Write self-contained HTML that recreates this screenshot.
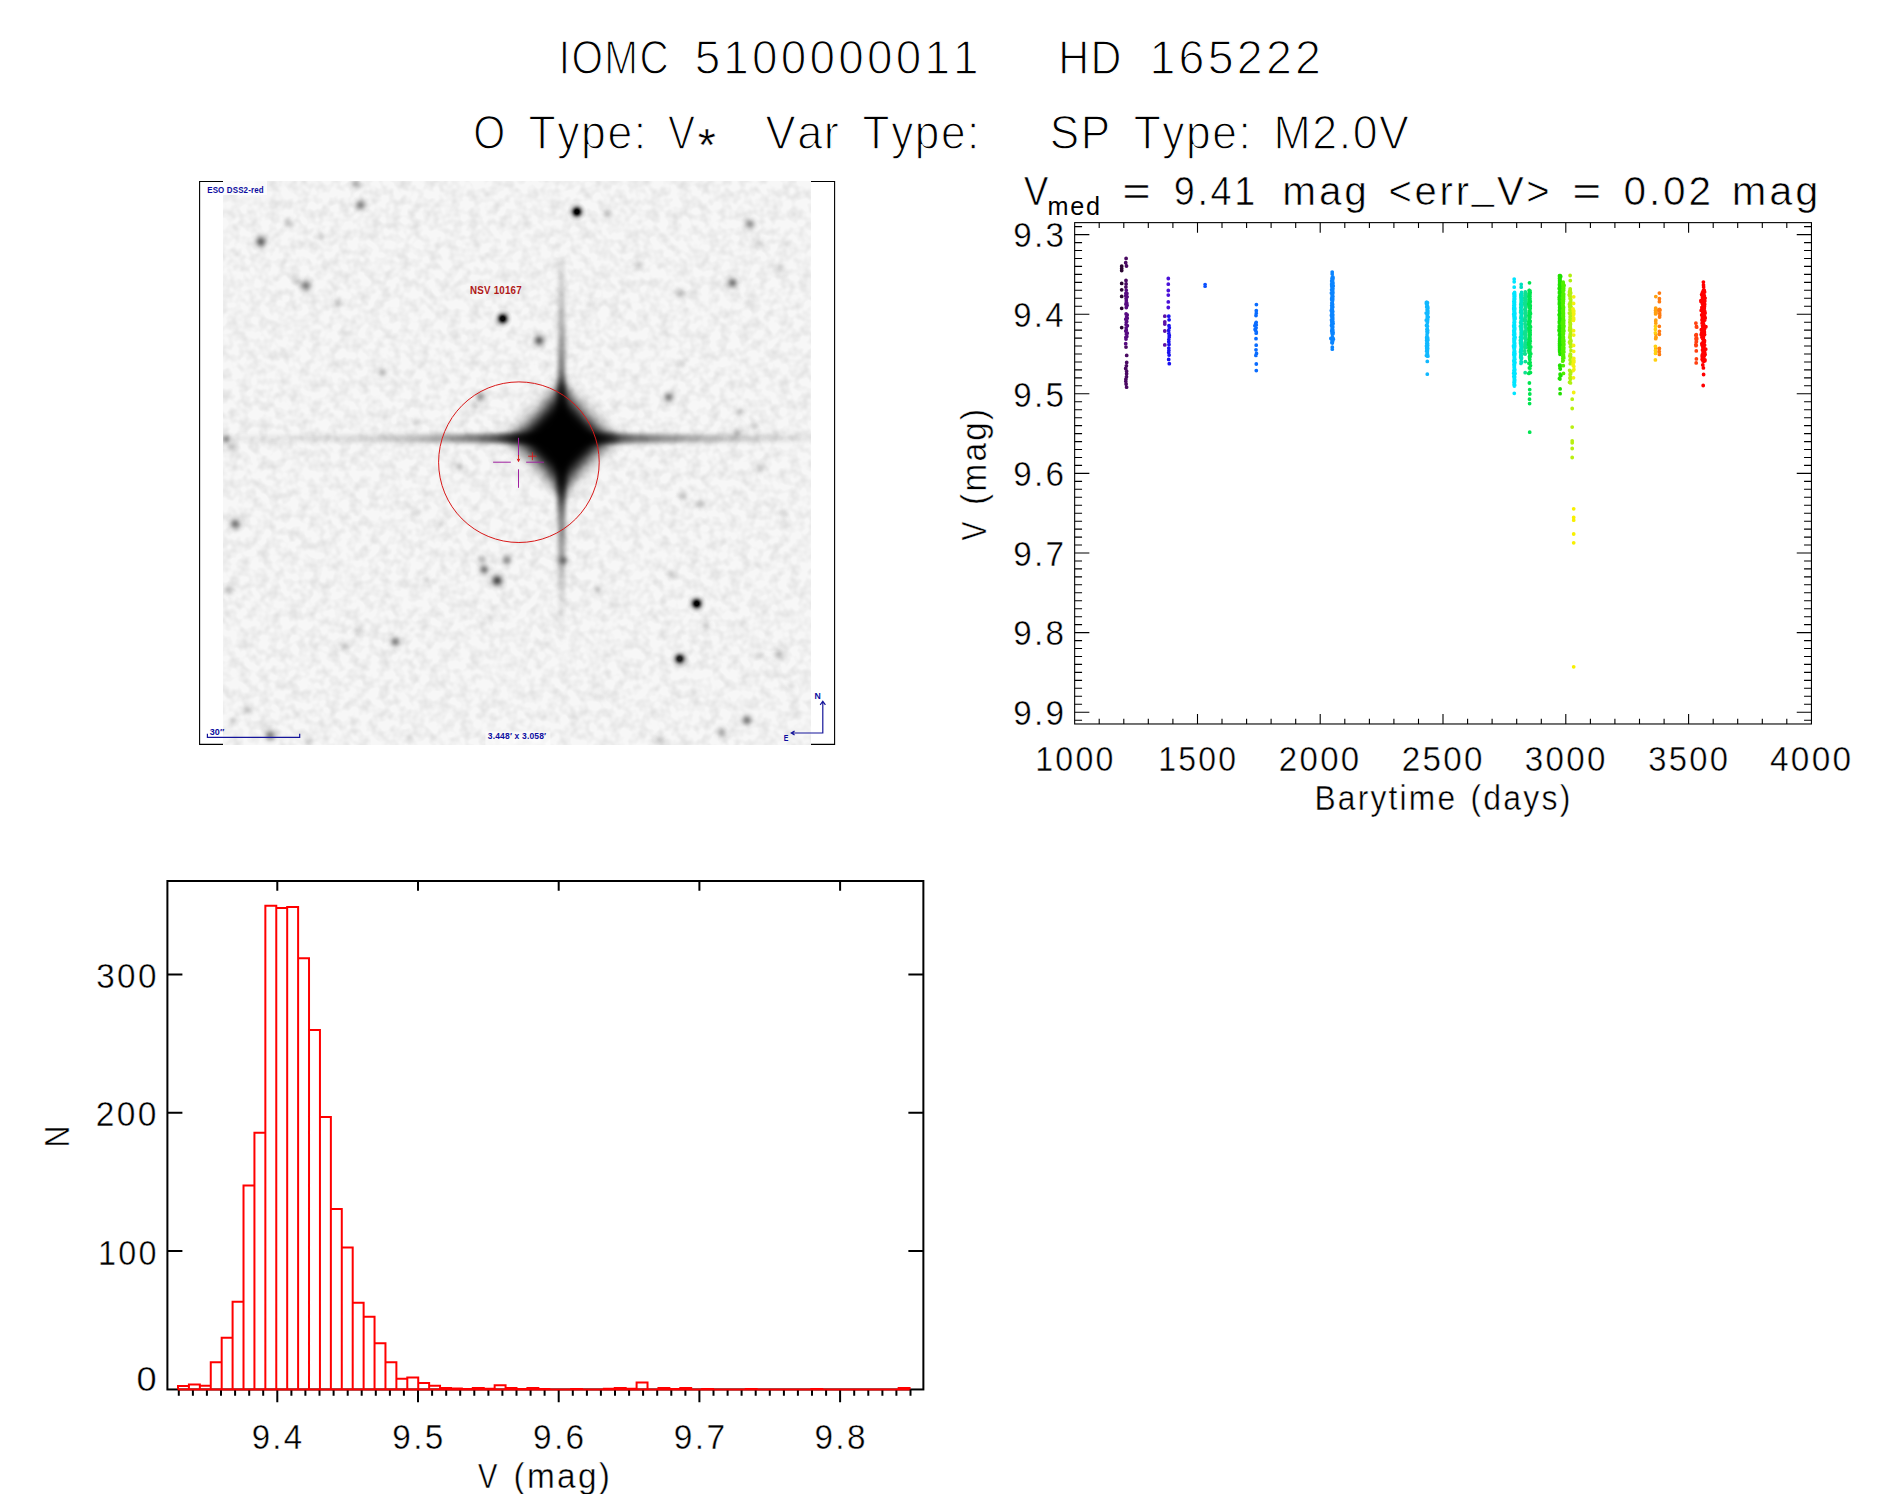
<!DOCTYPE html>
<html lang="en"><head><meta charset="utf-8"><title>IOMC 5100000011 HD 165222</title>
<style>html,body{margin:0;padding:0;background:#fff}svg{display:block}text{font-family:"Liberation Sans", sans-serif;font-kerning:none;white-space:pre}</style>
</head><body>
<svg width="1889" height="1494" viewBox="0 0 1889 1494">
<rect width="1889" height="1494" fill="#fff"/>
<defs>
<filter id="noise" x="0" y="0" width="100%" height="100%"><feTurbulence type="fractalNoise" baseFrequency="0.1" numOctaves="2" seed="7" result="t"/><feColorMatrix type="matrix" values="0 0 0 0 0  0 0 0 0 0  0 0 0 0 0  0.18 0 0 0 -0.066"/></filter>
<filter id="b2" x="-50%" y="-50%" width="200%" height="200%"><feGaussianBlur stdDeviation="2.3"/></filter>
<filter id="b5" x="-20%" y="-20%" width="140%" height="140%"><feGaussianBlur stdDeviation="4.5"/></filter>
<filter id="b3" x="-20%" y="-20%" width="140%" height="140%"><feGaussianBlur stdDeviation="2.2"/></filter>
<linearGradient id="hs" gradientUnits="userSpaceOnUse" x1="223" x2="811" y1="0" y2="0"><stop offset="0.0000" stop-color="#000" stop-opacity="0.05"/><stop offset="0.1310" stop-color="#000" stop-opacity="0.08"/><stop offset="0.2500" stop-color="#000" stop-opacity="0.13"/><stop offset="0.3180" stop-color="#000" stop-opacity="0.22"/><stop offset="0.3690" stop-color="#000" stop-opacity="0.32"/><stop offset="0.4371" stop-color="#000" stop-opacity="0.52"/><stop offset="0.4796" stop-color="#000" stop-opacity="0.72"/><stop offset="0.5136" stop-color="#000" stop-opacity="0.8"/><stop offset="0.6412" stop-color="#000" stop-opacity="0.8"/><stop offset="0.6786" stop-color="#000" stop-opacity="0.58"/><stop offset="0.7432" stop-color="#000" stop-opacity="0.42"/><stop offset="0.7942" stop-color="#000" stop-opacity="0.31"/><stop offset="0.8639" stop-color="#000" stop-opacity="0.2"/><stop offset="0.9303" stop-color="#000" stop-opacity="0.12"/><stop offset="1.0000" stop-color="#000" stop-opacity="0.07"/></linearGradient>
<linearGradient id="vs" gradientUnits="userSpaceOnUse" x1="0" x2="0" y1="181" y2="745"><stop offset="0.1259" stop-color="#000" stop-opacity="0.0"/><stop offset="0.1436" stop-color="#000" stop-opacity="0.09"/><stop offset="0.1755" stop-color="#000" stop-opacity="0.16"/><stop offset="0.2642" stop-color="#000" stop-opacity="0.3"/><stop offset="0.3369" stop-color="#000" stop-opacity="0.5"/><stop offset="0.3723" stop-color="#000" stop-opacity="0.75"/><stop offset="0.5301" stop-color="#000" stop-opacity="0.8"/><stop offset="0.5656" stop-color="#000" stop-opacity="0.66"/><stop offset="0.6011" stop-color="#000" stop-opacity="0.46"/><stop offset="0.6365" stop-color="#000" stop-opacity="0.38"/><stop offset="0.6720" stop-color="#000" stop-opacity="0.3"/><stop offset="0.7074" stop-color="#000" stop-opacity="0.18"/><stop offset="0.7429" stop-color="#000" stop-opacity="0.1"/><stop offset="0.7784" stop-color="#000" stop-opacity="0.06"/><stop offset="0.8227" stop-color="#000" stop-opacity="0.0"/></linearGradient>
<filter id="b6" x="-20%" y="-20%" width="140%" height="140%"><feGaussianBlur stdDeviation="6.5"/></filter>
<radialGradient id="sg"><stop offset="0" stop-color="#000" stop-opacity="1.000"/><stop offset="0.1" stop-color="#000" stop-opacity="0.956"/><stop offset="0.2" stop-color="#000" stop-opacity="0.835"/><stop offset="0.3" stop-color="#000" stop-opacity="0.667"/><stop offset="0.4" stop-color="#000" stop-opacity="0.487"/><stop offset="0.5" stop-color="#000" stop-opacity="0.325"/><stop offset="0.6" stop-color="#000" stop-opacity="0.198"/><stop offset="0.7" stop-color="#000" stop-opacity="0.110"/><stop offset="0.8" stop-color="#000" stop-opacity="0.056"/><stop offset="0.9" stop-color="#000" stop-opacity="0.026"/><stop offset="1.0" stop-color="#000" stop-opacity="0.000"/></radialGradient>
<radialGradient id="sgs"><stop offset="0" stop-color="#000" stop-opacity="1.000"/><stop offset="0.1" stop-color="#000" stop-opacity="1.000"/><stop offset="0.2" stop-color="#000" stop-opacity="1.000"/><stop offset="0.3" stop-color="#000" stop-opacity="0.800"/><stop offset="0.4" stop-color="#000" stop-opacity="0.584"/><stop offset="0.5" stop-color="#000" stop-opacity="0.390"/><stop offset="0.6" stop-color="#000" stop-opacity="0.237"/><stop offset="0.7" stop-color="#000" stop-opacity="0.132"/><stop offset="0.8" stop-color="#000" stop-opacity="0.067"/><stop offset="0.9" stop-color="#000" stop-opacity="0.031"/><stop offset="1.0" stop-color="#000" stop-opacity="0.000"/></radialGradient>
<clipPath id="imgclip"><rect x="223.04" y="181" width="587.92" height="563.9"/></clipPath>
</defs>
<text transform="translate(558.74 73.72) scale(0.8460 1)" font-size="47.89" letter-spacing="1.676" fill="#000" stroke="#fff" stroke-width="1.25" stroke-linejoin="round" vector-effect="non-scaling-stroke">IOMC</text>
<text transform="translate(694.64 73.72) scale(0.9582 1)" font-size="47.89" letter-spacing="3.352" fill="#000" stroke="#fff" stroke-width="1.25" stroke-linejoin="round" vector-effect="non-scaling-stroke">5100000011</text>
<text transform="translate(1058.17 73.72) scale(0.8936 1)" font-size="47.89" letter-spacing="1.676" fill="#000" stroke="#fff" stroke-width="1.25" stroke-linejoin="round" vector-effect="non-scaling-stroke">HD</text>
<text transform="translate(1149.43 73.72) scale(0.9715 1)" font-size="47.89" letter-spacing="3.352" fill="#000" stroke="#fff" stroke-width="1.25" stroke-linejoin="round" vector-effect="non-scaling-stroke">165222</text>
<text transform="translate(473.23 149.02) scale(0.8580 1)" font-size="47.89" fill="#000" stroke="#fff" stroke-width="1.25" stroke-linejoin="round" vector-effect="non-scaling-stroke">O</text>
<text transform="translate(528.48 149.02) scale(0.9299 1)" font-size="47.89" letter-spacing="1.676" fill="#000" stroke="#fff" stroke-width="1.25" stroke-linejoin="round" vector-effect="non-scaling-stroke">Type:</text>
<text transform="translate(668.10 149.02) scale(0.8454 1)" font-size="47.89" fill="#000" stroke="#fff" stroke-width="1.25" stroke-linejoin="round" vector-effect="non-scaling-stroke">V</text>
<text transform="translate(765.48 149.02) scale(0.9425 1)" font-size="47.89" letter-spacing="1.676" fill="#000" stroke="#fff" stroke-width="1.25" stroke-linejoin="round" vector-effect="non-scaling-stroke">Var</text>
<text transform="translate(862.58 149.02) scale(0.9233 1)" font-size="47.89" letter-spacing="1.676" fill="#000" stroke="#fff" stroke-width="1.25" stroke-linejoin="round" vector-effect="non-scaling-stroke">Type:</text>
<text transform="translate(1049.87 149.02) scale(0.9209 1)" font-size="47.89" letter-spacing="1.676" fill="#000" stroke="#fff" stroke-width="1.25" stroke-linejoin="round" vector-effect="non-scaling-stroke">SP</text>
<text transform="translate(1133.68 149.02) scale(0.9258 1)" font-size="47.89" letter-spacing="1.676" fill="#000" stroke="#fff" stroke-width="1.25" stroke-linejoin="round" vector-effect="non-scaling-stroke">Type:</text>
<text transform="translate(1273.51 149.02) scale(0.9331 1)" font-size="47.89" letter-spacing="1.676" fill="#000" stroke="#fff" stroke-width="1.25" stroke-linejoin="round" vector-effect="non-scaling-stroke">M2.0V</text>
<text x="697.85" y="160.6" font-size="46.5" fill="#000" stroke="#fff" stroke-width="0.4">*</text>
<g id="chart">
<path d="M223 181.5H199.6V744.4H223M811 181.5H834.6V744.4H811" fill="none" stroke="#000" stroke-width="1.1"/>
<g clip-path="url(#imgclip)">
<rect x="223" y="181" width="588" height="564" fill="#f7f7f7"/>
<rect x="223" y="181" width="588" height="564" fill="#000" filter="url(#noise)"/>
<circle cx="356.3" cy="184" r="9.3" fill="url(#sg)" opacity="0.22"/>
<circle cx="360.7" cy="205.1" r="10.4" fill="url(#sg)" opacity="0.42"/>
<circle cx="260.7" cy="241.7" r="11.0" fill="url(#sg)" opacity="0.53"/>
<circle cx="288.4" cy="222.6" r="9.3" fill="url(#sg)" opacity="0.15"/>
<circle cx="306" cy="285.5" r="11.0" fill="url(#sg)" opacity="0.42"/>
<circle cx="297" cy="281" r="8.7" fill="url(#sg)" opacity="0.12"/>
<circle cx="337.6" cy="302.5" r="9.3" fill="url(#sg)" opacity="0.17"/>
<circle cx="502.7" cy="318.6" r="10" fill="url(#sgs)" opacity="0.97"/>
<circle cx="382.4" cy="372.4" r="9.3" fill="url(#sg)" opacity="0.22"/>
<circle cx="480.2" cy="396.9" r="9.3" fill="url(#sg)" opacity="0.34"/>
<circle cx="475" cy="406" r="8.7" fill="url(#sg)" opacity="0.15"/>
<circle cx="226" cy="439" r="9.3" fill="url(#sg)" opacity="0.34"/>
<circle cx="232" cy="447" r="9.3" fill="url(#sg)" opacity="0.19"/>
<circle cx="416" cy="422" r="8.7" fill="url(#sg)" opacity="0.12"/>
<circle cx="320.5" cy="236" r="8.7" fill="url(#sg)" opacity="0.11"/>
<circle cx="459" cy="467" r="8.7" fill="url(#sg)" opacity="0.15"/>
<circle cx="576.9" cy="211.8" r="10" fill="url(#sgs)" opacity="1.00"/>
<circle cx="607.4" cy="213.8" r="9.3" fill="url(#sg)" opacity="0.20"/>
<circle cx="750" cy="224.2" r="10.4" fill="url(#sg)" opacity="0.36"/>
<circle cx="760" cy="243.3" r="9.9" fill="url(#sg)" opacity="0.09"/>
<circle cx="638.5" cy="265.4" r="9.3" fill="url(#sg)" opacity="0.15"/>
<circle cx="780" cy="267.4" r="9.3" fill="url(#sg)" opacity="0.15"/>
<circle cx="732.5" cy="282.9" r="10.4" fill="url(#sg)" opacity="0.47"/>
<circle cx="680.7" cy="292.9" r="9.3" fill="url(#sg)" opacity="0.19"/>
<circle cx="748" cy="303" r="8.7" fill="url(#sg)" opacity="0.09"/>
<circle cx="539.1" cy="340.3" r="11.0" fill="url(#sg)" opacity="0.53"/>
<circle cx="681.7" cy="363.8" r="8.7" fill="url(#sg)" opacity="0.09"/>
<circle cx="668.6" cy="397.3" r="9.9" fill="url(#sg)" opacity="0.42"/>
<circle cx="740" cy="412" r="9.3" fill="url(#sg)" opacity="0.15"/>
<circle cx="754.6" cy="426" r="9.3" fill="url(#sg)" opacity="0.15"/>
<circle cx="737" cy="432" r="9.3" fill="url(#sg)" opacity="0.17"/>
<circle cx="590" cy="304.5" r="8.7" fill="url(#sg)" opacity="0.09"/>
<circle cx="235.2" cy="523.9" r="11.0" fill="url(#sg)" opacity="0.47"/>
<circle cx="229.2" cy="590.5" r="9.3" fill="url(#sg)" opacity="0.19"/>
<circle cx="482.2" cy="559.4" r="9.3" fill="url(#sg)" opacity="0.22"/>
<circle cx="484.2" cy="569.4" r="9.9" fill="url(#sg)" opacity="0.42"/>
<circle cx="506.9" cy="560" r="9.9" fill="url(#sg)" opacity="0.36"/>
<circle cx="497.2" cy="580.5" r="11.3" fill="url(#sg)" opacity="0.64"/>
<circle cx="426" cy="579.5" r="8.7" fill="url(#sg)" opacity="0.09"/>
<circle cx="491" cy="617.6" r="8.7" fill="url(#sg)" opacity="0.09"/>
<circle cx="357.7" cy="630.7" r="9.3" fill="url(#sg)" opacity="0.14"/>
<circle cx="344.6" cy="646.7" r="9.3" fill="url(#sg)" opacity="0.14"/>
<circle cx="395.2" cy="641.7" r="10.2" fill="url(#sg)" opacity="0.42"/>
<circle cx="248.2" cy="710" r="9.9" fill="url(#sg)" opacity="0.15"/>
<circle cx="270.3" cy="735.1" r="11.0" fill="url(#sg)" opacity="0.42"/>
<circle cx="308.5" cy="742" r="9.3" fill="url(#sg)" opacity="0.15"/>
<circle cx="408.9" cy="738" r="8.7" fill="url(#sg)" opacity="0.09"/>
<circle cx="233" cy="721" r="8.7" fill="url(#sg)" opacity="0.09"/>
<circle cx="441" cy="524" r="8.7" fill="url(#sg)" opacity="0.07"/>
<circle cx="415" cy="512" r="9.9" fill="url(#sg)" opacity="0.07"/>
<circle cx="563.2" cy="560.4" r="9.9" fill="url(#sg)" opacity="0.38"/>
<circle cx="760" cy="469" r="9.3" fill="url(#sg)" opacity="0.14"/>
<circle cx="683.1" cy="495.7" r="9.3" fill="url(#sg)" opacity="0.15"/>
<circle cx="700.4" cy="503.8" r="9.3" fill="url(#sg)" opacity="0.15"/>
<circle cx="671.6" cy="574.5" r="9.3" fill="url(#sg)" opacity="0.12"/>
<circle cx="598" cy="590.1" r="9.3" fill="url(#sg)" opacity="0.15"/>
<circle cx="696.7" cy="603.6" r="10" fill="url(#sgs)" opacity="1.00"/>
<circle cx="706.4" cy="625.7" r="8.7" fill="url(#sg)" opacity="0.12"/>
<circle cx="679.7" cy="658.8" r="10" fill="url(#sgs)" opacity="0.87"/>
<circle cx="779.1" cy="654.4" r="10.4" fill="url(#sg)" opacity="0.22"/>
<circle cx="760" cy="654.8" r="8.7" fill="url(#sg)" opacity="0.09"/>
<circle cx="791" cy="686" r="8.7" fill="url(#sg)" opacity="0.09"/>
<circle cx="747" cy="720" r="10.4" fill="url(#sg)" opacity="0.42"/>
<circle cx="721.8" cy="732.1" r="10.4" fill="url(#sg)" opacity="0.24"/>
<circle cx="660.6" cy="740.1" r="9.9" fill="url(#sg)" opacity="0.17"/>
<circle cx="602" cy="697" r="8.7" fill="url(#sg)" opacity="0.07"/>
<circle cx="783" cy="514" r="8.7" fill="url(#sg)" opacity="0.07"/>
<g filter="url(#b3)">
<path d="M223 435.4 L440 434.59999999999997 L531.6 433.4 L591.6 433.4 L690 434.59999999999997 L811 435.4 L811 441.4 L690 442.2 L591.6 443.4 L531.6 443.4 L440 442.2 L223 441.4Z" fill="url(#hs)"/>
<path d="M558.8000000000001 255 L558.0 380 L556.8000000000001 408.4 L556.8000000000001 468.4 L558.0 520 L558.8000000000001 650 L564.4 650 L565.2 520 L566.4 468.4 L566.4 408.4 L565.2 380 L564.4 255Z" fill="url(#vs)"/>
</g>
<g filter="url(#b6)" fill="#000">
<path d="M561.6 384.4 L615.6 438.4 L561.6 492.4 L507.6 438.4Z" opacity="0.45"/>
</g>
<g filter="url(#b5)" fill="#000">
<path d="M561.6 400.4 L599.6 438.4 L561.6 476.4 L523.6 438.4Z"/>
<path d="M495.6 438.4 Q539.6 434.4 561.6 376.4 Q583.6 434.4 627.6 438.4 Q583.6 442.4 561.6 500.4 Q539.6 442.4 495.6 438.4Z" opacity="0.55"/>
</g>
</g>
<circle cx="518.9" cy="462.2" r="80.3" fill="none" stroke="#d81818" stroke-width="1"/>
<path d="M518.5 437.8V456M518.5 469.3V487.8M493.1 462.2H510.8M526.2 462.2H543.9" stroke="#a020a0" stroke-width="1" fill="none"/>
<path d="M518.5 455V461.2M517.2 458.8L518.5 461.6L519.8 458.8M532.4 452.2V460.2M528.2 456.2H536.6" stroke="#d81818" stroke-width="0.9" fill="none"/>
<rect x="223" y="181" width="44" height="14" fill="#fff" opacity="0.75"/>
<text transform="translate(207.17 193.20) scale(0.9265 1)" font-size="8.60" letter-spacing="0.172" font-weight="bold" fill="#0c0ca0">ESO DSS2-red</text>
<text transform="translate(470.04 293.60) scale(0.9073 1)" font-size="10.80" letter-spacing="0.216" font-weight="bold" fill="#b01818">NSV 10167</text>
<text transform="translate(209.69 734.70) scale(0.9669 1)" font-size="9.30" letter-spacing="0.186" font-weight="bold" fill="#0c0ca0">30″</text>
<path d="M207.4 733.7V737.4H299.7V733.7" fill="none" stroke="#14149a" stroke-width="1.2"/>
<rect x="485.4" y="731.6" width="65" height="13.3" fill="#fff" opacity="0.55"/>
<text transform="translate(487.81 739.00) scale(1.0101 1)" font-size="8.40" letter-spacing="0.168" font-weight="bold" fill="#0c0ca0">3.448′ x 3.058′</text>
<text transform="translate(814.62 699.40) scale(1.0579 1)" font-size="8.20" font-weight="bold" fill="#0c0ca0">N</text>
<text transform="translate(783.83 741.20) scale(0.8477 1)" font-size="8.20" font-weight="bold" fill="#0c0ca0">E</text>
<path d="M822.8 701.5V733H791.5M820.2 704.8L822.8 701.2L825.4 704.8M794.6 730.9L791.2 733L794.6 735.1" fill="none" stroke="#14149a" stroke-width="1.2"/>
</g>
<g id="lc">
<rect x="1074.66" y="222.63" width="736.79" height="501.35" fill="none" stroke="#000" stroke-width="1.1"/>
<path d="M1099.2 222.63v5.3M1099.2 723.98v-5.3M1123.8 222.63v5.3M1123.8 723.98v-5.3M1148.3 222.63v5.3M1148.3 723.98v-5.3M1172.9 222.63v5.3M1172.9 723.98v-5.3M1197.5 222.63v10M1197.5 723.98v-10M1222.0 222.63v5.3M1222.0 723.98v-5.3M1246.6 222.63v5.3M1246.6 723.98v-5.3M1271.1 222.63v5.3M1271.1 723.98v-5.3M1295.7 222.63v5.3M1295.7 723.98v-5.3M1320.2 222.63v10M1320.2 723.98v-10M1344.8 222.63v5.3M1344.8 723.98v-5.3M1369.4 222.63v5.3M1369.4 723.98v-5.3M1393.9 222.63v5.3M1393.9 723.98v-5.3M1418.5 222.63v5.3M1418.5 723.98v-5.3M1443.0 222.63v10M1443.0 723.98v-10M1467.6 222.63v5.3M1467.6 723.98v-5.3M1492.1 222.63v5.3M1492.1 723.98v-5.3M1516.7 222.63v5.3M1516.7 723.98v-5.3M1541.3 222.63v5.3M1541.3 723.98v-5.3M1565.8 222.63v10M1565.8 723.98v-10M1590.4 222.63v5.3M1590.4 723.98v-5.3M1614.9 222.63v5.3M1614.9 723.98v-5.3M1639.5 222.63v5.3M1639.5 723.98v-5.3M1664.1 222.63v5.3M1664.1 723.98v-5.3M1688.6 222.63v10M1688.6 723.98v-10M1713.2 222.63v5.3M1713.2 723.98v-5.3M1737.7 222.63v5.3M1737.7 723.98v-5.3M1762.3 222.63v5.3M1762.3 723.98v-5.3M1786.8 222.63v5.3M1786.8 723.98v-5.3M1074.66 226.6h7.4M1811.45 226.6h-7.4M1074.66 234.6h14.7M1811.45 234.6h-14.7M1074.66 242.6h7.4M1811.45 242.6h-7.4M1074.66 250.5h7.4M1811.45 250.5h-7.4M1074.66 258.5h7.4M1811.45 258.5h-7.4M1074.66 266.4h7.4M1811.45 266.4h-7.4M1074.66 274.4h7.4M1811.45 274.4h-7.4M1074.66 282.4h7.4M1811.45 282.4h-7.4M1074.66 290.3h7.4M1811.45 290.3h-7.4M1074.66 298.3h7.4M1811.45 298.3h-7.4M1074.66 306.2h7.4M1811.45 306.2h-7.4M1074.66 314.2h14.7M1811.45 314.2h-14.7M1074.66 322.2h7.4M1811.45 322.2h-7.4M1074.66 330.1h7.4M1811.45 330.1h-7.4M1074.66 338.1h7.4M1811.45 338.1h-7.4M1074.66 346.0h7.4M1811.45 346.0h-7.4M1074.66 354.0h7.4M1811.45 354.0h-7.4M1074.66 362.0h7.4M1811.45 362.0h-7.4M1074.66 369.9h7.4M1811.45 369.9h-7.4M1074.66 377.9h7.4M1811.45 377.9h-7.4M1074.66 385.8h7.4M1811.45 385.8h-7.4M1074.66 393.8h14.7M1811.45 393.8h-14.7M1074.66 401.8h7.4M1811.45 401.8h-7.4M1074.66 409.7h7.4M1811.45 409.7h-7.4M1074.66 417.7h7.4M1811.45 417.7h-7.4M1074.66 425.6h7.4M1811.45 425.6h-7.4M1074.66 433.6h7.4M1811.45 433.6h-7.4M1074.66 441.6h7.4M1811.45 441.6h-7.4M1074.66 449.5h7.4M1811.45 449.5h-7.4M1074.66 457.5h7.4M1811.45 457.5h-7.4M1074.66 465.4h7.4M1811.45 465.4h-7.4M1074.66 473.4h14.7M1811.45 473.4h-14.7M1074.66 481.4h7.4M1811.45 481.4h-7.4M1074.66 489.3h7.4M1811.45 489.3h-7.4M1074.66 497.3h7.4M1811.45 497.3h-7.4M1074.66 505.2h7.4M1811.45 505.2h-7.4M1074.66 513.2h7.4M1811.45 513.2h-7.4M1074.66 521.2h7.4M1811.45 521.2h-7.4M1074.66 529.1h7.4M1811.45 529.1h-7.4M1074.66 537.1h7.4M1811.45 537.1h-7.4M1074.66 545.0h7.4M1811.45 545.0h-7.4M1074.66 553.0h14.7M1811.45 553.0h-14.7M1074.66 561.0h7.4M1811.45 561.0h-7.4M1074.66 568.9h7.4M1811.45 568.9h-7.4M1074.66 576.9h7.4M1811.45 576.9h-7.4M1074.66 584.8h7.4M1811.45 584.8h-7.4M1074.66 592.8h7.4M1811.45 592.8h-7.4M1074.66 600.8h7.4M1811.45 600.8h-7.4M1074.66 608.7h7.4M1811.45 608.7h-7.4M1074.66 616.7h7.4M1811.45 616.7h-7.4M1074.66 624.6h7.4M1811.45 624.6h-7.4M1074.66 632.6h14.7M1811.45 632.6h-14.7M1074.66 640.6h7.4M1811.45 640.6h-7.4M1074.66 648.5h7.4M1811.45 648.5h-7.4M1074.66 656.5h7.4M1811.45 656.5h-7.4M1074.66 664.4h7.4M1811.45 664.4h-7.4M1074.66 672.4h7.4M1811.45 672.4h-7.4M1074.66 680.4h7.4M1811.45 680.4h-7.4M1074.66 688.3h7.4M1811.45 688.3h-7.4M1074.66 696.3h7.4M1811.45 696.3h-7.4M1074.66 704.2h7.4M1811.45 704.2h-7.4M1074.66 712.2h14.7M1811.45 712.2h-14.7M1074.66 720.2h7.4M1811.45 720.2h-7.4" fill="none" stroke="#000" stroke-width="1.1"/>
<text transform="translate(1013.13 247.41) scale(0.9678 1)" font-size="34.33" letter-spacing="2.403" fill="#000" stroke="#fff" stroke-width="0.42" stroke-linejoin="round" vector-effect="non-scaling-stroke">9.3</text>
<text transform="translate(1013.15 327.01) scale(0.9581 1)" font-size="34.33" letter-spacing="2.403" fill="#000" stroke="#fff" stroke-width="0.42" stroke-linejoin="round" vector-effect="non-scaling-stroke">9.4</text>
<text transform="translate(1013.14 406.61) scale(0.9665 1)" font-size="34.33" letter-spacing="2.403" fill="#000" stroke="#fff" stroke-width="0.42" stroke-linejoin="round" vector-effect="non-scaling-stroke">9.5</text>
<text transform="translate(1013.13 486.21) scale(0.9678 1)" font-size="34.33" letter-spacing="2.403" fill="#000" stroke="#fff" stroke-width="0.42" stroke-linejoin="round" vector-effect="non-scaling-stroke">9.6</text>
<text transform="translate(1013.13 565.81) scale(0.9721 1)" font-size="34.33" letter-spacing="2.403" fill="#000" stroke="#fff" stroke-width="0.42" stroke-linejoin="round" vector-effect="non-scaling-stroke">9.7</text>
<text transform="translate(1013.13 645.41) scale(0.9675 1)" font-size="34.33" letter-spacing="2.403" fill="#000" stroke="#fff" stroke-width="0.42" stroke-linejoin="round" vector-effect="non-scaling-stroke">9.8</text>
<text transform="translate(1013.13 725.01) scale(0.9701 1)" font-size="34.33" letter-spacing="2.403" fill="#000" stroke="#fff" stroke-width="0.42" stroke-linejoin="round" vector-effect="non-scaling-stroke">9.9</text>
<text transform="translate(1035.24 770.81) scale(0.9359 1)" font-size="34.33" letter-spacing="2.403" fill="#000" stroke="#fff" stroke-width="0.42" stroke-linejoin="round" vector-effect="non-scaling-stroke">1000</text>
<text transform="translate(1158.36 770.81) scale(0.9297 1)" font-size="34.33" letter-spacing="2.403" fill="#000" stroke="#fff" stroke-width="0.42" stroke-linejoin="round" vector-effect="non-scaling-stroke">1500</text>
<text transform="translate(1278.83 770.81) scale(0.9616 1)" font-size="34.33" letter-spacing="2.403" fill="#000" stroke="#fff" stroke-width="0.42" stroke-linejoin="round" vector-effect="non-scaling-stroke">2000</text>
<text transform="translate(1401.72 770.81) scale(0.9678 1)" font-size="34.33" letter-spacing="2.403" fill="#000" stroke="#fff" stroke-width="0.42" stroke-linejoin="round" vector-effect="non-scaling-stroke">2500</text>
<text transform="translate(1524.63 770.81) scale(0.9665 1)" font-size="34.33" letter-spacing="2.403" fill="#000" stroke="#fff" stroke-width="0.42" stroke-linejoin="round" vector-effect="non-scaling-stroke">3000</text>
<text transform="translate(1648.24 770.81) scale(0.9542 1)" font-size="34.33" letter-spacing="2.403" fill="#000" stroke="#fff" stroke-width="0.42" stroke-linejoin="round" vector-effect="non-scaling-stroke">3500</text>
<text transform="translate(1769.93 770.81) scale(0.9714 1)" font-size="34.33" letter-spacing="2.403" fill="#000" stroke="#fff" stroke-width="0.42" stroke-linejoin="round" vector-effect="non-scaling-stroke">4000</text>
<text transform="translate(1314.39 809.71) scale(0.9243 1)" font-size="34.33" letter-spacing="2.403" fill="#000" stroke="#fff" stroke-width="0.42" stroke-linejoin="round" vector-effect="non-scaling-stroke">Barytime</text>
<text transform="translate(1470.41 809.71) scale(0.9320 1)" font-size="34.33" letter-spacing="2.403" fill="#000" stroke="#fff" stroke-width="0.42" stroke-linejoin="round" vector-effect="non-scaling-stroke">(days)</text>
<g transform="translate(986.1 540.2) rotate(-90)">
<text transform="translate(-0.33 0.21) scale(0.8240 1)" font-size="34.33" fill="#000" stroke="#fff" stroke-width="0.42" stroke-linejoin="round" vector-effect="non-scaling-stroke">V</text>
<text transform="translate(35.23 0.21) scale(0.9687 1)" font-size="34.33" letter-spacing="2.403" fill="#000" stroke="#fff" stroke-width="0.42" stroke-linejoin="round" vector-effect="non-scaling-stroke">(mag)</text>
</g>
<text transform="translate(1023.93 205.21) scale(0.9118 1)" font-size="39.85" fill="#000" stroke="#fff" stroke-width="0.62" stroke-linejoin="round" vector-effect="non-scaling-stroke">V</text>
<text transform="translate(1122.31 205.21) scale(1.2250 1)" font-size="39.85" fill="#000" stroke="#fff" stroke-width="0.62" stroke-linejoin="round" vector-effect="non-scaling-stroke">=</text>
<text transform="translate(1173.72 205.21) scale(0.9488 1)" font-size="39.85" letter-spacing="2.790" fill="#000" stroke="#fff" stroke-width="0.62" stroke-linejoin="round" vector-effect="non-scaling-stroke">9.41</text>
<text transform="translate(1282.30 205.21) scale(1.0183 1)" font-size="39.85" letter-spacing="2.790" fill="#000" stroke="#fff" stroke-width="0.62" stroke-linejoin="round" vector-effect="non-scaling-stroke">mag</text>
<text transform="translate(1388.42 205.21) scale(1.0038 1)" font-size="39.85" letter-spacing="2.790" fill="#000" stroke="#fff" stroke-width="0.62" stroke-linejoin="round" vector-effect="non-scaling-stroke">&lt;err<tspan dy="-6.5">_</tspan><tspan dy="6.5">V&gt;</tspan></text>
<text transform="translate(1572.17 205.21) scale(1.2457 1)" font-size="39.85" fill="#000" stroke="#fff" stroke-width="0.62" stroke-linejoin="round" vector-effect="non-scaling-stroke">=</text>
<text transform="translate(1623.50 205.21) scale(1.0188 1)" font-size="39.85" letter-spacing="2.790" fill="#000" stroke="#fff" stroke-width="0.62" stroke-linejoin="round" vector-effect="non-scaling-stroke">0.02</text>
<text transform="translate(1731.83 205.21) scale(1.0414 1)" font-size="39.85" letter-spacing="2.790" fill="#000" stroke="#fff" stroke-width="0.62" stroke-linejoin="round" vector-effect="non-scaling-stroke">mag</text>
<text transform="translate(1047.52 214.70) scale(0.9892 1)" font-size="25.50" letter-spacing="1.785" fill="#000">med</text>
<path d="M1126.1 258.4h0M1125.7 262.7h0M1126.5 266.0h0M1126.0 280.5h0M1126.1 283.9h0M1125.9 287.1h0M1126.0 347.1h0M1126.7 355.4h0M1126.7 362.4h0M1126.4 365.8h0M1125.7 368.5h0M1126.6 371.2h0M1126.6 373.8h0M1126.5 376.8h0M1125.9 379.2h0M1125.8 381.3h0M1126.1 384.0h0M1126.6 387.2h0" fill="none" stroke="#4a0a62" stroke-width="3.8" stroke-linecap="round"/>
<path d="M1126.3 290.3h0M1125.9 293.5h0M1125.8 295.7h0M1126.1 298.4h0M1126.3 302.1h0M1125.9 304.2h0M1126.3 307.5h0M1126.1 313.9h0M1126.7 316.6h0M1125.8 319.2h0M1126.7 321.4h0M1126.1 324.6h0M1126.2 327.8h0M1125.8 331.0h0M1126.4 334.2h0M1125.9 337.4h0M1126.0 339.0h0M1125.7 343.7h0M1126.9 293.5h0M1127.1 296.8h0M1126.3 300.0h0M1126.8 303.2h0M1127.1 305.3h0M1127.2 315.0h0M1127.2 318.2h0M1126.3 322.4h0M1127.3 325.7h0M1126.3 329.9h0M1127.2 333.2h0M1126.8 336.4h0" fill="none" stroke="#560a80" stroke-width="3.8" stroke-linecap="round"/>
<path d="M1121.7 266.2h0M1121.7 268.4h0M1121.7 270.5h0M1121.7 283.4h0M1121.7 289.8h0M1121.7 296.4h0M1121.7 308.3h0M1121.7 327.6h0" fill="none" stroke="#2a0632" stroke-width="3.8" stroke-linecap="round"/>
<path d="M1168.3 278.5h0M1168.3 284.2h0M1168.3 290.5h0M1168.3 295.1h0M1168.3 301.9h0M1168.3 307.5h0" fill="none" stroke="#4a10d8" stroke-width="3.8" stroke-linecap="round"/>
<path d="M1168.8 316.2h0M1169.1 319.8h0M1169.0 325.7h0M1169.3 327.8h0M1168.7 330.5h0M1168.8 333.2h0M1169.3 335.3h0M1169.2 336.9h0M1168.8 339.6h0M1168.8 341.7h0M1169.0 344.4h0M1168.8 348.1h0M1168.9 350.3h0M1168.7 352.4h0M1169.1 355.1h0M1168.7 359.4h0M1169.3 363.7h0" fill="none" stroke="#1a10f0" stroke-width="3.8" stroke-linecap="round"/>
<path d="M1164.8 316.2h0M1164.8 321.9h0M1164.8 324.1h0M1164.8 331.0h0M1164.8 344.9h0" fill="none" stroke="#5a10a8" stroke-width="3.8" stroke-linecap="round"/>
<path d="M1205.1 284.6h0M1205.1 286.2h0" fill="none" stroke="#0a50ff" stroke-width="3.8" stroke-linecap="round"/>
<path d="M1256.4 304.6h0M1256.3 310.7h0M1256.3 313.3h0M1256.0 315.5h0M1256.2 322.4h0M1256.3 325.1h0M1256.1 327.8h0M1255.7 331.0h0M1256.2 333.2h0M1256.0 338.7h0M1256.2 345.2h0M1256.0 349.8h0M1256.5 353.5h0M1255.9 355.4h0M1256.3 364.0h0M1256.3 370.6h0M1255.7 323.5h0M1254.9 325.7h0M1255.1 329.4h0M1256.3 332.1h0" fill="none" stroke="#0a6cff" stroke-width="3.8" stroke-linecap="round"/>
<path d="M1332.2 272.1h0M1332.2 273.9h0M1332.2 311.8h0M1332.7 276.8h0M1332.7 289.1h0M1332.3 317.8h0M1332.3 310.9h0M1332.1 304.1h0M1332.5 304.9h0M1331.4 293.1h0M1332.4 299.0h0M1332.2 303.4h0M1332.5 311.7h0M1332.8 293.5h0M1331.8 298.6h0M1332.6 281.2h0M1332.1 318.7h0M1332.4 290.3h0M1332.8 299.0h0M1332.9 296.4h0M1331.8 322.1h0M1332.2 330.7h0M1332.3 301.3h0M1332.7 311.6h0M1331.8 281.2h0M1332.1 301.8h0M1332.3 327.2h0M1332.2 323.1h0M1332.0 294.5h0M1332.5 326.6h0M1332.0 278.6h0M1332.3 300.0h0M1332.8 319.0h0M1332.0 339.9h0M1332.8 289.3h0M1332.4 303.5h0M1332.4 337.7h0M1332.6 325.8h0M1332.4 297.0h0M1332.2 329.8h0M1332.5 282.1h0M1332.4 332.0h0M1332.3 277.5h0M1332.7 284.3h0M1331.7 299.7h0M1332.2 298.3h0M1332.5 286.7h0M1332.3 290.6h0M1332.0 342.9h0M1332.2 295.9h0M1332.4 312.4h0M1332.2 313.9h0M1332.1 312.1h0M1332.0 329.3h0M1332.6 316.5h0M1332.7 329.6h0M1332.5 278.3h0M1332.6 321.5h0M1332.5 331.9h0M1332.1 321.2h0M1332.7 279.7h0M1332.3 297.8h0M1332.4 314.9h0M1332.1 280.4h0M1333.0 283.1h0M1332.9 288.4h0M1332.6 291.3h0M1332.2 283.1h0M1332.2 291.5h0M1332.3 291.7h0M1332.3 316.5h0M1332.1 293.0h0M1333.4 339.2h0M1332.3 337.6h0M1331.5 320.0h0M1332.0 287.4h0M1332.2 277.6h0M1331.6 289.8h0M1332.4 314.6h0M1331.7 284.9h0M1332.3 343.1h0M1332.6 291.9h0M1331.9 321.6h0M1332.7 314.7h0M1331.9 338.6h0M1331.7 284.0h0M1333.1 338.3h0M1332.4 301.5h0M1331.9 305.2h0M1332.6 284.1h0M1332.3 315.0h0M1332.6 288.2h0M1332.2 302.7h0M1331.4 315.3h0M1331.9 319.3h0M1331.8 311.6h0M1332.3 340.3h0M1332.2 337.5h0M1332.2 319.0h0M1332.1 278.5h0M1332.1 314.7h0M1332.5 293.6h0M1332.8 293.6h0M1332.7 314.5h0M1332.8 330.1h0M1332.3 329.8h0M1332.2 317.9h0M1332.5 297.4h0M1332.2 303.3h0M1332.5 322.9h0M1331.9 325.9h0M1332.6 331.5h0M1331.3 310.6h0M1331.8 313.0h0M1331.8 324.2h0M1331.5 338.8h0M1332.5 324.3h0M1332.6 326.3h0M1332.4 297.9h0M1332.1 304.6h0M1332.2 303.0h0M1332.4 320.2h0M1332.3 318.7h0M1332.0 327.5h0M1332.3 287.5h0M1332.4 322.6h0M1332.6 297.8h0M1332.1 319.1h0M1332.3 293.2h0M1332.4 317.3h0M1332.0 303.2h0M1332.4 285.9h0M1332.3 323.4h0M1332.0 315.1h0M1332.8 285.6h0M1331.9 307.2h0M1332.9 292.2h0M1332.3 342.8h0M1332.4 309.9h0M1332.7 332.7h0M1331.7 298.3h0M1331.9 283.2h0M1332.3 324.6h0M1332.4 323.1h0M1332.3 285.1h0M1331.7 280.9h0M1332.3 299.5h0M1332.3 316.4h0M1332.0 341.0h0M1331.9 342.7h0M1332.2 278.1h0M1332.6 284.8h0M1331.8 292.6h0M1332.5 283.3h0M1332.1 310.5h0M1331.8 286.2h0M1332.4 334.4h0M1332.6 339.4h0M1333.1 338.5h0M1332.5 330.4h0M1332.4 331.4h0M1333.2 286.0h0M1332.6 315.9h0M1332.4 278.3h0M1332.8 311.6h0M1332.1 310.0h0M1332.8 326.9h0M1332.7 278.1h0M1332.4 339.9h0M1332.0 299.8h0M1332.4 299.1h0M1332.5 281.4h0M1332.5 314.0h0M1332.6 314.4h0M1332.4 286.5h0M1332.4 337.6h0M1332.7 314.3h0M1332.7 317.3h0M1332.6 324.2h0M1332.2 311.7h0M1332.1 290.3h0M1332.6 283.4h0M1332.8 288.1h0M1332.1 331.1h0M1332.5 316.4h0M1332.8 330.6h0M1331.5 325.4h0M1332.8 307.1h0M1332.5 285.6h0M1332.5 311.9h0M1332.5 319.8h0M1331.7 305.5h0M1332.2 322.1h0M1332.9 321.6h0M1331.7 316.5h0M1332.1 294.5h0M1332.1 296.4h0M1332.5 337.5h0M1332.2 307.2h0M1331.8 309.5h0M1332.6 316.5h0M1332.6 300.3h0M1330.9 338.5h0M1332.2 281.8h0M1332.9 331.7h0M1332.1 331.2h0M1332.3 320.1h0M1332.5 332.7h0M1332.3 340.8h0M1332.3 338.3h0M1332.3 296.8h0M1333.0 333.7h0M1332.8 291.8h0M1332.3 319.7h0M1332.8 283.4h0M1332.4 306.7h0M1332.6 287.2h0M1332.5 298.8h0M1331.8 319.6h0M1332.4 312.1h0M1332.5 286.4h0M1332.0 323.1h0M1331.8 303.1h0M1333.0 277.5h0M1331.8 309.0h0M1333.1 332.4h0M1332.0 281.7h0M1332.7 290.3h0M1332.6 298.5h0M1332.5 314.4h0M1332.1 294.8h0M1332.1 278.3h0M1332.6 337.6h0M1332.5 289.4h0M1332.3 316.5h0M1332.3 305.1h0M1332.1 295.1h0M1332.6 304.3h0M1332.5 339.9h0M1332.8 338.1h0M1332.3 328.7h0M1332.3 307.9h0M1331.8 331.6h0M1332.2 311.7h0M1332.1 279.4h0M1332.4 287.8h0M1332.8 315.0h0M1333.0 278.5h0M1332.1 333.2h0M1332.6 304.6h0M1332.0 298.5h0M1332.2 282.0h0M1332.4 326.2h0M1331.9 315.4h0M1332.5 298.3h0M1332.5 329.7h0M1331.8 330.6h0M1333.1 323.4h0M1331.8 299.6h0M1332.2 283.5h0M1332.6 341.6h0M1332.0 326.2h0M1332.3 347.2h0M1332.3 349.2h0" fill="none" stroke="#0a84ff" stroke-width="3.8" stroke-linecap="round"/>
<path d="M1427.1 321.3h0M1427.0 319.5h0M1427.6 307.5h0M1426.4 303.5h0M1426.9 325.9h0M1427.6 343.4h0M1427.7 338.3h0M1427.1 310.0h0M1426.8 312.8h0M1426.9 303.6h0M1426.7 337.2h0M1426.2 313.1h0M1427.4 320.7h0M1427.0 346.3h0M1427.4 350.2h0M1426.4 302.3h0M1427.3 314.8h0M1427.7 348.3h0M1427.1 353.4h0M1426.6 340.6h0M1427.6 309.6h0M1427.1 330.2h0M1427.7 319.7h0M1427.0 307.5h0M1427.3 340.7h0M1427.3 320.0h0M1426.3 320.2h0M1427.6 337.6h0M1427.0 325.3h0M1427.5 326.3h0M1427.6 332.3h0M1427.5 308.3h0M1428.2 317.1h0M1427.0 320.7h0M1427.3 332.9h0M1426.8 343.6h0M1427.2 328.6h0M1426.9 346.1h0M1427.7 345.5h0M1426.7 337.9h0M1427.5 340.6h0M1427.3 315.4h0M1427.6 343.8h0M1427.4 356.2h0M1427.1 303.9h0M1426.8 339.1h0M1427.5 332.7h0M1426.9 307.2h0M1427.0 345.7h0M1427.6 319.8h0M1427.4 332.3h0M1426.8 313.1h0M1427.1 325.0h0M1427.0 350.2h0M1427.8 312.7h0M1426.6 351.2h0M1427.0 350.8h0M1427.2 353.7h0M1427.5 314.4h0M1427.1 352.3h0M1427.0 341.7h0M1426.4 355.6h0M1427.1 352.2h0M1426.5 325.5h0M1427.5 354.3h0M1427.0 331.6h0M1427.2 320.6h0M1427.2 317.1h0M1427.5 316.1h0M1427.2 308.1h0M1427.2 313.9h0M1427.9 340.1h0M1427.2 340.7h0M1427.2 309.5h0M1427.3 352.0h0M1427.5 349.7h0M1427.7 306.8h0M1427.5 321.6h0M1427.9 308.1h0M1427.2 332.9h0M1426.7 348.7h0M1427.5 332.4h0M1427.9 311.1h0M1426.9 305.3h0M1427.3 339.9h0M1427.6 348.5h0M1427.1 334.8h0M1426.7 337.7h0M1426.8 347.5h0M1427.5 348.6h0M1427.1 306.1h0M1426.7 320.0h0M1426.9 312.9h0M1427.3 322.5h0M1427.3 352.9h0M1427.0 302.5h0M1426.7 343.1h0M1427.5 302.8h0M1427.3 332.8h0M1427.3 307.3h0M1427.0 307.8h0M1427.4 322.5h0M1426.8 320.9h0M1427.4 305.9h0M1426.9 302.4h0M1427.7 330.5h0M1427.9 312.9h0M1427.3 331.1h0M1427.6 345.2h0M1427.4 351.8h0M1427.4 302.6h0M1426.5 345.9h0M1427.9 356.2h0M1427.4 341.1h0M1426.7 306.9h0M1426.8 349.0h0M1427.4 316.8h0M1427.3 339.5h0M1426.9 329.4h0M1427.4 343.0h0M1427.3 361.4h0M1427.3 374.2h0" fill="none" stroke="#10b8ff" stroke-width="3.8" stroke-linecap="round"/>
<path d="M1514.2 279.1h0M1514.2 281.8h0M1514.2 287.2h0M1514.7 299.3h0M1514.6 354.8h0M1514.8 312.8h0M1514.3 345.6h0M1514.3 298.5h0M1513.9 294.1h0M1513.8 330.7h0M1514.7 314.1h0M1513.8 309.5h0M1514.4 302.6h0M1514.6 329.0h0M1514.1 318.0h0M1514.3 358.6h0M1514.9 313.4h0M1514.2 326.9h0M1513.6 373.3h0M1514.8 362.6h0M1514.6 313.2h0M1514.3 303.7h0M1514.5 359.3h0M1514.1 345.4h0M1513.8 314.0h0M1514.5 357.4h0M1514.4 294.0h0M1514.0 316.2h0M1514.2 320.0h0M1514.1 305.5h0M1514.2 362.5h0M1514.3 312.9h0M1514.0 340.6h0M1514.8 328.9h0M1514.1 344.7h0M1514.0 335.1h0M1514.7 294.6h0M1514.0 332.4h0M1513.8 305.6h0M1514.2 361.7h0M1514.5 353.1h0M1514.2 302.8h0M1514.5 328.7h0M1514.8 369.6h0M1514.2 298.5h0M1514.9 359.3h0M1514.0 303.0h0M1514.9 353.5h0M1513.7 334.8h0M1514.0 341.8h0M1514.8 319.0h0M1514.3 350.3h0M1514.3 316.8h0M1514.5 330.5h0M1514.5 362.3h0M1514.1 360.7h0M1514.3 348.0h0M1513.7 325.8h0M1514.1 324.3h0M1514.7 343.7h0M1514.5 370.5h0M1514.6 328.5h0M1514.3 326.7h0M1514.8 295.9h0M1514.4 345.2h0M1514.2 361.5h0M1514.6 309.2h0M1514.1 342.7h0M1514.3 337.3h0M1514.2 344.6h0M1514.2 347.0h0M1515.0 362.6h0M1514.6 357.8h0M1514.4 367.9h0M1514.0 305.2h0M1514.3 297.6h0M1513.5 345.9h0M1514.5 338.5h0M1514.3 366.5h0M1514.3 351.6h0M1514.5 357.9h0M1514.7 296.8h0M1514.1 360.1h0M1514.2 351.9h0M1514.7 373.1h0M1514.1 334.6h0M1514.2 338.2h0M1514.3 337.9h0M1514.1 296.5h0M1514.4 337.0h0M1514.3 306.8h0M1514.3 313.3h0M1514.6 313.9h0M1514.2 371.3h0M1514.6 309.7h0M1514.3 367.9h0M1514.4 357.0h0M1514.4 328.8h0M1514.2 347.8h0M1513.8 308.4h0M1514.2 366.8h0M1514.0 340.7h0M1514.1 328.9h0M1514.5 332.1h0M1514.3 299.2h0M1514.1 348.9h0M1514.2 325.8h0M1514.2 302.7h0M1514.1 347.2h0M1514.4 295.4h0M1514.1 364.0h0M1514.3 357.6h0M1513.8 326.8h0M1514.8 354.7h0M1514.1 370.0h0M1514.6 297.1h0M1514.1 341.1h0M1514.2 318.3h0M1514.3 360.0h0M1513.8 354.7h0M1513.8 307.7h0M1514.3 364.1h0M1514.2 316.7h0M1514.4 353.6h0M1514.3 300.8h0M1514.7 334.6h0M1513.9 338.8h0M1514.4 304.6h0M1514.6 324.9h0M1514.6 333.1h0M1514.6 321.7h0M1513.9 370.6h0M1514.9 373.2h0M1514.2 305.8h0M1514.4 363.4h0M1514.2 371.2h0M1514.4 310.8h0M1514.0 303.8h0M1514.2 323.1h0M1514.4 363.1h0M1513.9 293.7h0M1514.5 345.4h0M1514.5 326.3h0M1514.2 362.7h0M1514.8 345.9h0M1514.6 342.5h0M1514.7 353.0h0M1514.3 324.1h0M1513.9 361.5h0M1515.0 317.4h0M1514.0 309.8h0M1514.5 371.9h0M1514.7 312.1h0M1513.9 326.7h0M1514.4 337.7h0M1514.0 373.1h0M1514.6 355.4h0M1514.6 304.7h0M1514.2 309.1h0M1514.4 310.8h0M1514.8 338.7h0M1514.6 312.0h0M1514.2 365.6h0M1514.4 360.2h0M1514.3 372.8h0M1514.2 308.2h0M1514.6 310.3h0M1514.3 317.9h0M1514.0 322.5h0M1515.1 318.8h0M1513.7 314.4h0M1514.2 367.4h0M1514.8 308.3h0M1514.5 360.9h0M1514.5 362.3h0M1514.6 296.0h0M1514.2 296.2h0M1514.4 306.5h0M1514.0 315.6h0M1514.8 327.9h0M1514.7 334.0h0M1514.4 313.3h0M1514.6 369.8h0M1514.6 338.9h0M1513.9 352.6h0M1514.5 365.1h0M1514.4 357.6h0M1514.2 303.9h0M1514.6 292.5h0M1514.5 358.5h0M1514.2 307.1h0M1513.9 307.6h0M1514.4 315.6h0M1514.3 322.8h0M1514.3 361.6h0M1514.4 324.9h0M1514.6 334.9h0M1514.3 319.6h0M1514.4 373.2h0M1514.0 316.7h0M1514.1 351.5h0M1514.5 333.6h0M1514.6 298.1h0M1514.0 293.3h0M1514.3 329.5h0M1514.3 349.0h0M1514.4 338.0h0M1513.9 364.7h0M1514.6 322.6h0M1513.7 314.4h0M1514.2 329.6h0M1514.0 338.6h0M1514.3 357.3h0M1514.5 315.8h0M1514.1 355.7h0M1514.2 329.0h0M1514.1 312.8h0M1514.1 298.2h0M1514.3 314.2h0M1514.5 319.5h0M1514.4 318.0h0M1514.8 314.0h0M1514.1 367.0h0M1514.2 331.1h0M1514.3 299.3h0M1514.2 336.2h0M1515.1 373.6h0M1514.0 311.3h0M1514.4 312.8h0M1514.4 363.4h0M1513.9 332.0h0M1514.7 298.5h0M1513.8 347.5h0M1514.5 302.9h0M1514.4 344.6h0M1514.4 353.1h0M1514.4 348.3h0M1514.7 351.2h0M1513.8 360.7h0M1514.2 337.4h0M1514.6 325.2h0M1514.0 335.1h0M1514.4 295.6h0M1514.6 363.8h0M1514.7 309.5h0M1514.5 364.9h0M1514.4 329.0h0M1514.6 302.0h0M1514.3 355.5h0M1514.6 374.6h0M1514.6 353.8h0M1514.4 297.5h0M1514.0 311.0h0M1514.6 339.8h0M1513.9 309.0h0M1513.8 301.4h0M1514.4 366.9h0M1514.7 293.9h0M1514.5 362.9h0M1514.1 296.0h0M1514.6 347.4h0M1514.6 361.5h0M1514.3 304.9h0M1514.7 314.7h0M1514.4 351.4h0M1514.4 318.5h0M1514.4 335.2h0M1514.3 301.6h0M1514.5 322.6h0M1514.6 294.8h0M1514.4 335.3h0M1514.3 294.2h0M1514.4 340.4h0M1514.3 339.5h0M1514.1 299.4h0M1513.8 308.0h0M1514.4 330.7h0M1514.5 356.9h0M1514.2 298.8h0M1514.2 364.0h0M1514.8 316.4h0M1514.1 308.3h0M1514.4 319.6h0M1514.5 362.0h0M1514.0 339.5h0M1514.1 309.9h0M1514.0 332.9h0M1514.2 318.5h0M1514.5 368.3h0M1515.1 337.3h0M1514.1 315.1h0M1514.1 371.8h0M1514.5 363.6h0M1514.4 332.4h0M1513.9 353.1h0M1514.7 370.5h0M1514.0 342.1h0M1514.5 337.7h0M1514.0 360.1h0M1513.8 313.7h0M1514.5 372.8h0M1514.3 348.8h0M1514.1 316.2h0M1514.4 380.0h0M1514.4 386.0h0M1514.3 380.1h0M1514.7 376.9h0M1514.2 375.4h0M1514.1 384.9h0M1514.3 380.2h0M1514.2 378.6h0M1514.2 383.1h0M1514.1 375.4h0M1514.7 379.6h0M1514.1 384.5h0M1514.3 375.9h0M1514.0 382.4h0M1513.8 376.6h0M1514.6 384.7h0M1514.4 377.9h0M1514.1 382.1h0M1514.2 381.2h0M1514.6 379.5h0M1514.5 384.4h0M1514.5 384.3h0M1514.7 385.2h0M1514.6 382.1h0M1514.7 380.4h0M1514.3 393.3h0" fill="none" stroke="#00e5ff" stroke-width="3.8" stroke-linecap="round"/>
<path d="M1521.2 284.3h0M1521.2 287.2h0M1521.1 356.7h0M1521.4 350.2h0M1521.4 336.6h0M1521.1 295.8h0M1521.6 301.5h0M1521.8 300.6h0M1521.3 316.1h0M1521.0 296.5h0M1521.6 292.3h0M1521.4 314.8h0M1521.5 296.7h0M1521.1 339.3h0M1521.4 338.4h0M1521.8 298.7h0M1521.3 317.9h0M1521.1 298.7h0M1521.2 340.3h0M1521.0 355.2h0M1520.7 349.9h0M1521.1 334.9h0M1521.6 306.6h0M1521.2 330.4h0M1520.5 342.9h0M1521.1 313.3h0M1521.8 311.6h0M1520.8 322.2h0M1521.0 346.2h0M1521.2 349.6h0M1520.8 317.9h0M1520.6 312.3h0M1521.7 300.4h0M1521.5 312.7h0M1520.8 344.6h0M1521.1 326.4h0M1520.9 353.9h0M1521.1 320.4h0M1521.2 311.6h0M1521.5 317.9h0M1521.1 341.8h0M1521.2 336.2h0M1521.1 352.9h0M1521.0 352.8h0M1521.1 295.9h0M1521.0 328.0h0M1521.2 318.0h0M1521.3 322.1h0M1521.1 310.6h0M1521.6 334.2h0M1521.6 314.7h0M1520.9 295.6h0M1521.1 313.3h0M1521.3 347.3h0M1521.2 342.9h0M1521.2 349.4h0M1521.3 296.1h0M1521.2 329.3h0M1521.8 320.4h0M1521.3 329.5h0M1520.5 352.1h0M1521.5 336.7h0M1521.4 347.1h0M1520.8 310.6h0M1521.3 339.5h0M1520.4 326.3h0M1520.8 304.3h0M1521.3 300.2h0M1520.9 354.7h0M1521.0 304.9h0M1521.2 308.3h0M1521.7 294.0h0M1521.0 337.6h0M1521.0 340.4h0M1521.5 310.9h0M1521.0 343.3h0M1521.9 346.1h0M1521.2 341.1h0M1520.4 340.5h0M1521.1 353.1h0M1521.7 329.1h0M1521.2 322.2h0M1521.0 326.4h0M1521.2 307.2h0M1520.8 356.3h0M1521.1 346.8h0M1521.2 315.6h0M1521.3 341.6h0M1521.2 336.2h0M1521.2 324.7h0M1521.1 324.7h0M1521.2 331.9h0M1521.3 315.6h0M1521.4 317.3h0M1521.2 334.8h0M1521.3 297.5h0M1521.3 347.2h0M1521.2 310.1h0M1521.1 335.1h0M1521.3 304.0h0M1521.2 342.6h0M1521.2 302.4h0M1521.7 333.2h0M1521.0 303.1h0M1520.8 322.2h0M1521.2 313.4h0M1521.5 351.3h0M1521.3 342.9h0M1521.5 296.9h0M1521.3 332.3h0M1520.6 352.3h0M1520.7 356.9h0M1521.3 324.1h0M1520.5 337.3h0M1521.4 324.7h0M1520.8 355.4h0M1521.5 324.7h0M1520.9 294.3h0M1521.3 345.7h0M1521.1 337.4h0M1520.8 344.7h0M1520.8 307.4h0M1521.4 328.2h0M1521.0 304.5h0M1520.9 309.9h0M1521.5 329.6h0M1521.3 314.8h0M1521.1 322.5h0M1520.9 304.9h0M1521.0 306.1h0M1521.2 319.8h0M1521.0 306.6h0M1520.9 329.1h0M1521.1 299.6h0M1521.0 348.5h0M1521.0 323.7h0M1521.5 325.2h0M1521.1 337.4h0M1521.4 336.2h0M1521.5 347.4h0M1521.1 324.6h0M1521.4 311.3h0M1521.2 342.1h0M1520.9 349.8h0M1521.4 305.7h0M1521.3 332.2h0M1521.2 353.6h0M1521.2 319.7h0M1521.6 324.0h0M1521.5 330.0h0M1520.6 322.6h0M1521.5 311.5h0M1521.0 323.0h0M1521.1 340.5h0M1521.0 316.2h0M1521.6 349.7h0M1521.4 351.3h0M1521.3 355.5h0M1521.2 350.7h0M1521.2 335.6h0M1521.2 304.6h0M1521.4 295.4h0M1521.1 330.2h0M1521.1 318.6h0M1520.9 296.1h0M1521.2 329.6h0M1521.2 298.1h0M1520.8 307.8h0M1521.3 341.1h0M1521.2 317.4h0M1521.8 336.7h0M1520.9 297.8h0M1521.3 331.8h0M1521.5 318.3h0M1521.3 310.8h0M1521.2 349.4h0M1521.5 343.7h0M1521.1 333.0h0M1521.6 339.0h0M1521.1 301.1h0M1521.1 343.3h0M1521.2 295.2h0M1521.6 362.3h0M1521.2 357.3h0M1521.3 359.3h0M1520.7 357.5h0M1521.1 361.7h0M1521.0 363.4h0M1521.6 357.9h0M1521.2 363.1h0" fill="none" stroke="#00e0c0" stroke-width="3.8" stroke-linecap="round"/>
<path d="M1526.0 302.1h0M1525.0 301.3h0M1525.2 317.1h0M1524.8 346.9h0M1525.2 308.8h0M1525.6 332.2h0M1525.3 316.4h0M1524.8 338.1h0M1525.5 295.9h0M1525.6 311.5h0M1525.3 319.6h0M1525.6 305.9h0M1525.2 318.6h0M1525.1 324.6h0M1525.6 298.8h0M1525.3 338.8h0M1524.8 319.2h0M1525.6 346.3h0M1525.8 347.5h0M1525.3 310.0h0M1525.1 334.9h0M1525.6 315.9h0M1525.4 341.5h0M1525.6 331.5h0M1525.3 292.0h0M1525.1 320.8h0M1525.8 338.1h0M1525.3 301.5h0M1525.9 331.1h0M1525.3 309.2h0M1525.2 312.4h0M1525.4 317.4h0M1525.2 354.0h0M1526.1 296.2h0M1525.8 325.7h0M1524.8 309.5h0M1525.5 321.2h0M1525.4 347.7h0M1525.1 297.6h0M1525.4 325.3h0M1525.5 311.1h0M1525.2 310.5h0M1525.3 292.0h0M1525.7 326.5h0M1525.7 320.6h0M1525.9 297.8h0M1525.4 335.4h0M1524.7 297.8h0M1525.7 313.7h0M1526.1 330.2h0M1525.5 312.9h0M1525.7 313.9h0M1525.9 299.5h0M1525.0 342.9h0M1525.4 295.4h0M1525.4 295.4h0M1524.5 334.2h0M1525.2 346.0h0M1524.7 320.9h0M1525.0 319.3h0M1524.9 300.0h0M1524.9 313.3h0M1525.2 337.3h0M1525.6 315.4h0M1525.0 323.5h0M1525.3 343.3h0M1525.0 333.0h0M1525.2 295.9h0M1524.8 332.1h0M1525.7 344.4h0M1524.9 300.8h0M1524.8 350.9h0M1525.5 296.9h0M1525.4 307.6h0M1525.6 332.2h0M1524.6 333.9h0M1525.7 335.2h0M1525.9 293.4h0M1524.9 318.2h0M1525.0 348.2h0M1524.8 304.5h0M1524.5 303.3h0M1525.3 294.3h0M1525.1 293.8h0M1525.4 316.3h0M1525.0 345.3h0M1524.9 309.3h0M1525.2 295.1h0M1526.1 328.9h0M1525.7 298.9h0M1525.8 344.0h0M1525.1 331.2h0M1526.1 339.9h0M1525.5 332.8h0M1525.8 316.7h0M1524.9 344.3h0M1525.1 354.1h0M1525.5 298.0h0M1524.9 331.2h0M1525.5 300.1h0M1525.3 303.6h0M1525.7 304.3h0M1525.5 347.1h0M1525.9 325.0h0M1524.8 319.7h0M1525.1 327.0h0M1525.0 295.6h0M1524.9 305.3h0M1525.2 302.9h0M1524.6 353.8h0M1525.4 361.6h0M1525.2 372.7h0" fill="none" stroke="#10e090" stroke-width="3.8" stroke-linecap="round"/>
<path d="M1529.5 282.8h0M1529.9 349.5h0M1529.5 336.4h0M1530.2 308.2h0M1529.9 353.7h0M1529.5 335.4h0M1529.1 347.4h0M1529.5 345.1h0M1530.0 290.8h0M1529.7 317.2h0M1529.5 326.3h0M1529.2 300.7h0M1529.7 306.5h0M1530.0 335.8h0M1529.7 343.9h0M1529.2 312.7h0M1529.9 322.2h0M1529.0 339.4h0M1529.7 347.7h0M1529.3 312.1h0M1530.8 353.8h0M1530.1 332.7h0M1529.7 340.3h0M1529.6 334.5h0M1530.2 330.4h0M1528.7 342.3h0M1529.3 329.7h0M1529.9 309.9h0M1529.1 318.9h0M1528.9 347.2h0M1529.6 294.5h0M1529.3 310.4h0M1529.1 300.6h0M1529.3 334.1h0M1529.4 297.4h0M1530.0 335.7h0M1529.6 347.6h0M1529.9 311.6h0M1529.7 322.5h0M1529.5 331.6h0M1529.5 301.2h0M1529.1 325.0h0M1529.9 316.2h0M1529.4 332.7h0M1529.2 316.9h0M1530.1 300.7h0M1529.5 295.3h0M1529.6 317.7h0M1529.2 293.6h0M1530.2 312.4h0M1529.2 329.9h0M1529.3 327.1h0M1529.9 322.6h0M1529.5 295.0h0M1529.6 352.1h0M1529.1 297.6h0M1529.3 317.1h0M1529.5 349.6h0M1529.6 316.1h0M1529.8 307.6h0M1529.7 307.1h0M1528.9 343.9h0M1529.6 301.1h0M1529.8 327.2h0M1529.7 300.5h0M1528.9 315.4h0M1529.9 339.4h0M1529.1 300.0h0M1529.7 292.2h0M1529.4 320.9h0M1529.2 321.3h0M1529.1 301.9h0M1529.2 290.3h0M1529.4 307.0h0M1529.1 352.5h0M1530.1 352.8h0M1529.2 345.1h0M1529.4 341.4h0M1529.9 354.1h0M1529.5 328.2h0M1529.4 349.3h0M1529.4 299.5h0M1529.2 341.6h0M1528.7 303.9h0M1530.4 354.0h0M1529.5 341.5h0M1529.9 303.8h0M1529.5 305.5h0M1529.3 348.1h0M1529.6 343.6h0M1529.4 298.9h0M1529.9 303.4h0M1529.5 335.3h0M1530.0 294.0h0M1528.9 305.7h0M1529.3 330.7h0M1529.5 322.3h0M1530.5 313.7h0M1530.0 314.7h0M1529.4 302.2h0M1529.9 291.7h0M1529.8 345.7h0M1530.2 321.1h0M1529.1 312.8h0M1529.5 308.6h0M1529.8 310.0h0M1529.3 323.8h0M1529.6 322.1h0M1530.0 348.2h0M1530.0 338.6h0M1529.3 336.1h0M1529.5 305.5h0M1529.8 302.6h0M1529.3 340.1h0M1529.7 334.8h0M1529.9 314.7h0M1528.9 345.8h0M1530.2 353.7h0M1529.2 328.0h0M1529.5 316.4h0M1529.9 343.1h0M1529.5 340.6h0M1529.5 334.6h0M1530.3 341.2h0M1529.4 321.1h0M1529.6 351.4h0M1529.9 331.7h0M1529.4 292.0h0M1529.5 315.1h0M1529.1 307.6h0M1529.9 317.6h0M1529.8 317.4h0M1530.0 290.8h0M1530.1 301.6h0M1529.5 342.3h0M1529.9 351.2h0M1529.2 344.2h0M1529.7 338.7h0M1529.0 294.9h0M1528.8 328.1h0M1529.5 294.3h0M1530.7 346.9h0M1529.7 346.9h0M1529.5 322.6h0M1530.0 352.9h0M1529.3 310.4h0M1529.8 352.7h0M1530.2 306.6h0M1529.5 314.0h0M1529.3 329.5h0M1529.7 349.8h0M1529.1 332.1h0M1530.2 292.4h0M1529.7 305.7h0M1529.2 334.1h0M1529.5 316.3h0M1529.8 328.2h0M1529.1 329.6h0M1529.1 290.6h0M1529.6 299.7h0M1529.5 302.5h0M1529.9 334.5h0M1529.4 332.2h0M1529.7 301.5h0M1529.5 333.6h0M1529.9 322.5h0M1530.3 301.7h0M1529.7 306.9h0M1530.1 325.8h0M1529.9 306.3h0M1530.0 298.7h0M1529.6 341.5h0M1529.1 329.0h0M1529.6 320.5h0M1529.5 341.3h0M1529.7 325.5h0M1529.6 320.5h0M1529.5 312.1h0M1529.0 306.6h0M1529.5 337.3h0M1529.5 345.2h0M1529.4 330.2h0M1529.5 293.0h0M1530.5 327.0h0M1530.0 348.7h0M1529.1 321.3h0M1529.7 343.1h0M1529.5 302.5h0M1528.8 322.1h0M1528.6 344.4h0M1529.3 290.4h0M1528.9 321.4h0M1529.2 350.3h0M1529.1 301.8h0M1529.0 315.8h0M1529.5 349.0h0M1529.4 331.3h0M1529.6 337.9h0M1529.4 320.2h0M1529.1 344.9h0M1529.4 342.6h0M1529.0 296.8h0M1529.3 337.2h0M1528.8 350.7h0M1529.0 339.2h0M1530.0 338.1h0M1529.1 349.2h0M1529.6 304.2h0M1529.5 344.3h0M1529.8 343.7h0M1529.3 340.7h0M1529.9 331.2h0M1528.7 324.2h0M1530.0 296.2h0M1529.3 299.9h0M1529.9 330.3h0M1529.0 348.3h0M1529.4 303.8h0M1529.5 337.5h0M1530.2 334.4h0M1530.3 305.7h0M1529.8 355.7h0M1529.8 372.4h0M1529.6 358.3h0M1529.9 368.2h0M1530.5 372.6h0M1530.2 362.6h0M1529.8 359.6h0M1528.9 363.2h0M1529.9 372.1h0M1530.1 356.6h0M1529.4 356.8h0M1528.8 373.4h0M1529.4 368.0h0M1530.5 365.6h0M1529.4 383.0h0M1529.7 389.6h0M1529.8 394.0h0M1529.5 399.2h0M1529.6 403.6h0M1529.7 432.2h0" fill="none" stroke="#00e550" stroke-width="3.8" stroke-linecap="round"/>
<path d="M1560.0 323.1h0M1559.8 348.0h0M1560.4 318.9h0M1560.2 334.2h0M1560.4 281.6h0M1560.3 292.4h0M1559.7 293.0h0M1560.6 340.0h0M1560.3 308.1h0M1560.3 275.7h0M1560.0 340.8h0M1560.0 300.6h0M1559.8 281.8h0M1559.6 325.3h0M1559.8 341.8h0M1560.2 308.5h0M1559.7 287.5h0M1559.7 330.3h0M1559.8 299.4h0M1559.7 287.3h0M1560.4 294.1h0M1559.5 285.1h0M1559.8 307.8h0M1559.6 280.9h0M1560.1 329.5h0M1559.9 317.7h0M1559.7 340.7h0M1560.0 300.5h0M1560.0 292.9h0M1560.4 334.5h0M1559.6 276.5h0M1560.0 290.0h0M1559.8 312.0h0M1559.8 343.4h0M1559.8 333.0h0M1560.2 312.6h0M1560.0 304.4h0M1559.9 346.7h0M1560.1 285.3h0M1560.1 337.8h0M1560.0 343.9h0M1559.9 297.6h0M1560.2 309.5h0M1559.8 333.8h0M1559.8 333.4h0M1560.8 334.2h0M1559.6 349.6h0M1560.1 277.4h0M1559.7 292.5h0M1560.5 339.9h0M1559.8 280.0h0M1560.1 298.7h0M1559.7 309.8h0M1560.3 353.3h0M1559.5 275.9h0M1559.5 310.7h0M1560.2 306.1h0M1560.3 287.5h0M1559.7 306.0h0M1559.8 283.3h0M1560.2 341.4h0M1559.7 329.8h0M1559.1 314.8h0M1560.4 345.2h0M1559.8 345.5h0M1559.8 302.6h0M1560.0 345.0h0M1559.7 292.9h0M1560.2 336.2h0M1560.7 288.2h0M1560.0 292.3h0M1559.9 321.3h0M1560.4 334.5h0M1559.5 278.6h0M1560.1 324.0h0M1559.9 351.8h0M1559.9 322.5h0M1559.8 316.5h0M1560.0 342.4h0M1560.0 300.2h0M1559.9 348.0h0M1560.4 343.9h0M1560.3 329.2h0M1559.9 297.9h0M1559.9 294.1h0M1560.0 300.8h0M1560.5 276.8h0M1560.4 309.5h0M1560.1 319.3h0M1559.7 348.7h0M1560.6 346.2h0M1560.3 310.7h0M1559.9 344.4h0M1560.4 339.8h0M1560.7 299.7h0M1560.4 291.0h0M1560.0 290.2h0M1559.7 334.1h0M1560.2 330.3h0M1560.2 307.0h0M1559.4 303.0h0M1559.7 313.5h0M1560.3 320.2h0M1560.3 319.7h0M1559.8 290.5h0M1559.6 328.7h0M1559.8 310.9h0M1560.2 297.1h0M1560.3 290.2h0M1560.5 349.7h0M1559.7 349.8h0M1560.0 314.6h0M1560.3 307.6h0M1559.9 348.2h0M1560.1 343.2h0M1559.7 322.5h0M1559.8 318.0h0M1559.6 295.6h0M1560.4 304.2h0M1560.3 291.2h0M1559.5 301.8h0M1559.8 333.8h0M1560.0 324.4h0M1559.8 290.2h0M1560.2 290.7h0M1559.6 341.7h0M1559.8 338.5h0M1559.9 294.0h0M1559.5 310.2h0M1560.5 334.2h0M1559.6 345.2h0M1560.1 347.0h0M1559.8 352.1h0M1559.6 341.1h0M1559.7 338.9h0M1560.3 344.0h0M1559.8 310.2h0M1559.6 322.5h0M1560.1 277.7h0M1560.1 278.1h0M1560.7 345.4h0M1560.4 345.4h0M1559.8 346.7h0M1559.5 291.8h0M1560.4 306.6h0M1560.1 352.4h0M1560.3 325.7h0M1559.9 342.8h0M1560.1 348.9h0M1560.1 337.9h0M1560.0 299.5h0M1560.1 299.6h0M1560.4 348.7h0M1560.2 288.6h0M1560.3 332.0h0M1559.6 346.3h0M1560.0 322.0h0M1559.3 321.8h0M1559.9 346.4h0M1559.6 317.1h0M1559.5 284.4h0M1559.4 334.9h0M1559.6 350.9h0M1560.0 288.6h0M1560.7 276.5h0M1560.2 293.2h0M1560.1 337.2h0M1559.3 304.0h0M1560.0 287.3h0M1559.9 336.0h0M1560.2 349.4h0M1559.6 319.9h0M1559.9 330.4h0M1560.3 310.6h0M1559.4 315.0h0M1559.8 281.3h0M1560.0 340.3h0M1559.8 278.7h0M1560.1 277.4h0M1559.6 347.7h0M1560.2 335.2h0M1559.6 277.1h0M1560.3 288.2h0M1559.6 328.9h0M1560.2 348.0h0M1559.8 286.6h0M1560.3 297.5h0M1560.2 324.5h0M1560.6 337.6h0M1560.4 326.9h0M1560.2 292.9h0M1559.9 326.4h0M1560.0 322.9h0M1559.9 318.5h0M1559.9 304.1h0M1560.1 316.7h0M1561.1 331.2h0M1559.2 288.4h0M1560.0 313.7h0M1559.9 286.8h0M1559.8 314.0h0M1559.3 326.1h0M1559.8 294.0h0M1559.7 288.3h0M1560.6 300.1h0M1559.8 331.9h0M1560.4 287.6h0M1559.3 327.2h0M1560.3 343.3h0M1560.3 297.1h0M1559.6 300.5h0M1559.2 297.5h0M1559.9 337.4h0M1560.0 279.7h0M1560.3 306.4h0M1560.1 324.4h0M1559.7 282.4h0M1559.8 276.5h0M1560.4 297.5h0M1560.1 337.4h0M1559.8 325.6h0M1560.0 328.2h0M1560.2 320.1h0M1559.6 318.4h0M1560.5 348.7h0M1559.8 341.1h0M1560.3 299.7h0M1560.1 327.2h0M1559.4 322.9h0M1560.2 351.0h0M1559.8 343.8h0M1560.0 354.3h0M1560.0 345.9h0M1559.4 287.8h0M1559.3 299.6h0M1559.8 289.4h0M1560.1 343.3h0M1559.6 307.7h0M1560.0 330.7h0M1559.9 283.6h0M1559.7 301.0h0M1559.9 321.7h0M1560.2 350.8h0M1559.9 286.5h0M1559.9 349.1h0M1560.3 311.2h0M1560.0 296.6h0M1559.7 321.6h0M1559.3 331.2h0M1560.7 319.0h0M1560.1 278.7h0M1559.7 291.7h0M1560.5 338.8h0M1559.6 345.7h0M1559.7 347.2h0M1559.9 330.3h0M1560.2 334.4h0M1559.9 342.5h0M1560.4 288.6h0M1560.7 276.3h0M1560.5 292.1h0M1560.4 330.2h0M1560.1 292.9h0M1560.3 292.3h0M1560.3 320.4h0M1559.7 339.8h0M1560.1 296.3h0M1559.9 344.1h0M1560.0 290.0h0M1559.4 292.9h0M1559.0 330.2h0M1560.7 327.6h0M1560.3 331.3h0M1560.3 322.4h0M1560.1 295.6h0M1560.0 292.2h0M1559.5 343.7h0M1559.8 303.0h0M1559.8 328.1h0M1559.8 327.9h0M1559.7 280.3h0M1560.0 329.6h0M1560.2 332.3h0M1559.9 302.0h0M1559.5 315.4h0M1559.8 339.4h0M1560.1 286.0h0M1559.9 343.5h0M1560.6 283.1h0M1560.0 347.5h0M1559.7 283.3h0M1560.3 295.6h0M1560.0 340.9h0M1559.9 299.4h0M1560.2 349.1h0M1559.6 319.8h0M1559.9 284.1h0M1559.5 275.7h0M1559.8 290.1h0M1560.4 296.3h0M1559.8 323.6h0M1559.9 350.6h0M1560.1 302.8h0M1559.7 339.2h0M1560.1 303.9h0M1559.8 352.2h0M1560.3 346.4h0M1560.8 322.6h0M1560.3 286.8h0M1559.7 349.1h0M1560.5 337.0h0M1559.8 336.2h0M1560.3 322.0h0M1559.9 288.8h0M1560.0 286.0h0M1560.1 318.7h0M1560.5 313.2h0M1559.8 288.6h0M1559.9 324.0h0M1560.2 317.4h0M1560.0 365.2h0M1560.9 375.4h0M1560.4 375.9h0M1559.9 367.9h0M1559.9 379.0h0M1559.4 378.6h0M1560.1 374.2h0M1560.3 374.7h0M1560.7 365.9h0M1560.3 369.1h0M1560.1 366.0h0M1559.7 365.4h0M1560.1 388.9h0M1560.1 393.7h0" fill="none" stroke="#20e000" stroke-width="3.8" stroke-linecap="round"/>
<path d="M1563.6 357.9h0M1563.1 287.5h0M1563.1 305.3h0M1562.6 347.1h0M1563.1 355.4h0M1563.3 310.6h0M1562.9 294.3h0M1563.9 330.8h0M1563.3 303.3h0M1563.4 318.6h0M1563.4 301.4h0M1563.4 320.9h0M1563.2 318.9h0M1563.2 328.9h0M1563.1 301.8h0M1563.1 347.6h0M1563.5 323.0h0M1563.7 349.6h0M1563.3 290.5h0M1563.6 341.5h0M1562.9 340.8h0M1563.7 348.5h0M1563.4 337.7h0M1563.3 312.4h0M1562.8 348.4h0M1563.8 348.1h0M1563.8 320.5h0M1562.8 283.7h0M1563.0 294.8h0M1563.4 314.5h0M1563.0 343.3h0M1563.3 313.7h0M1563.2 300.1h0M1563.0 311.1h0M1563.4 344.1h0M1562.8 298.5h0M1563.4 306.6h0M1562.8 316.0h0M1563.4 344.0h0M1563.1 306.2h0M1563.5 319.9h0M1563.6 299.4h0M1562.8 358.7h0M1563.7 323.1h0M1563.0 351.3h0M1563.1 285.6h0M1562.9 323.8h0M1563.5 357.0h0M1563.0 311.8h0M1562.7 316.6h0M1563.6 297.8h0M1563.2 290.6h0M1563.2 331.6h0M1563.1 314.9h0M1563.3 283.4h0M1563.7 288.6h0M1562.7 310.4h0M1563.3 322.8h0M1563.8 326.4h0M1563.6 327.6h0M1562.9 340.1h0M1563.4 355.9h0M1563.9 331.0h0M1563.6 307.2h0M1563.1 327.3h0M1563.7 290.3h0M1563.5 329.1h0M1563.4 308.9h0M1563.3 283.4h0M1563.1 282.5h0M1563.6 293.6h0M1563.0 336.7h0M1563.0 310.5h0M1563.2 343.5h0M1562.8 305.9h0M1563.2 307.4h0M1563.3 322.1h0M1563.7 340.8h0M1562.6 304.5h0M1562.8 353.2h0M1563.6 356.4h0M1563.1 341.3h0M1563.5 322.0h0M1563.5 294.0h0M1563.0 313.1h0M1562.8 312.0h0M1563.1 359.4h0M1563.5 298.2h0M1563.6 295.1h0M1563.8 357.9h0M1562.7 326.5h0M1563.4 301.2h0M1563.3 357.9h0M1562.9 312.3h0M1564.1 285.4h0M1563.4 328.4h0M1562.7 325.9h0M1563.2 309.4h0M1563.1 313.4h0M1563.7 326.0h0M1563.7 294.2h0M1563.4 312.0h0M1563.2 297.9h0M1563.3 287.4h0M1563.1 347.0h0M1562.9 338.9h0M1563.7 351.3h0M1562.9 323.5h0M1563.8 347.4h0M1563.3 332.9h0M1563.5 355.0h0M1563.1 328.2h0M1563.7 288.6h0M1562.8 306.6h0M1562.9 283.0h0M1563.1 330.0h0M1563.6 296.3h0M1564.0 326.1h0M1563.5 316.2h0M1563.3 336.5h0M1563.1 348.6h0M1563.0 355.5h0M1563.5 294.5h0M1563.0 321.9h0M1563.0 332.9h0M1562.8 302.0h0M1563.0 342.4h0M1563.0 294.9h0M1563.4 342.0h0M1563.9 344.8h0M1563.0 358.7h0M1563.7 339.9h0M1563.2 288.6h0M1563.5 331.8h0M1563.3 357.6h0M1562.5 297.7h0M1563.4 337.4h0M1563.2 306.7h0M1563.2 339.1h0M1562.7 322.1h0M1563.2 347.8h0M1562.9 348.4h0M1563.0 350.2h0M1562.6 332.8h0M1562.4 351.4h0M1562.6 310.6h0M1563.2 315.6h0M1563.0 349.8h0M1562.6 351.9h0M1562.8 361.0h0M1562.7 294.5h0M1563.2 319.8h0M1563.6 347.9h0M1563.7 287.1h0M1563.0 313.1h0M1563.0 293.6h0M1562.6 351.0h0M1563.5 333.8h0M1562.7 361.2h0M1563.3 360.3h0M1562.9 323.4h0M1563.8 343.8h0M1563.2 337.9h0M1563.5 352.6h0M1563.3 286.3h0M1562.9 350.5h0M1563.5 299.5h0M1562.9 316.5h0M1563.9 341.2h0M1563.7 321.0h0M1563.7 358.2h0M1563.0 306.6h0M1563.5 298.2h0M1563.2 307.3h0M1563.1 322.0h0M1563.5 294.5h0M1563.1 355.5h0M1563.2 288.5h0M1563.0 307.3h0M1563.4 308.1h0M1563.4 312.9h0M1563.2 303.0h0M1562.4 300.9h0M1563.4 339.3h0M1563.5 327.0h0M1563.5 313.3h0M1563.6 320.7h0M1563.3 347.2h0M1562.6 321.8h0M1563.3 357.5h0M1562.2 323.4h0M1563.4 321.2h0M1563.1 320.0h0M1562.8 356.5h0M1563.4 308.8h0M1562.7 323.1h0M1563.7 325.5h0M1563.3 317.2h0M1563.3 345.8h0M1563.0 290.5h0M1563.3 336.3h0M1563.2 282.2h0M1563.2 324.0h0M1562.7 329.9h0M1563.1 284.7h0M1563.2 338.4h0M1563.0 334.8h0M1563.4 316.8h0M1563.0 315.6h0M1563.0 287.4h0M1563.4 299.0h0M1563.1 327.2h0M1563.4 310.1h0M1563.1 328.0h0M1563.1 328.1h0M1563.9 351.9h0M1563.1 324.1h0M1563.2 321.5h0M1563.3 317.7h0M1563.6 320.8h0M1563.3 365.7h0M1563.5 373.4h0" fill="none" stroke="#50f000" stroke-width="3.8" stroke-linecap="round"/>
<path d="M1570.1 275.5h0M1570.3 280.6h0M1570.5 306.8h0M1570.1 342.3h0M1570.7 340.7h0M1570.5 324.3h0M1570.6 329.8h0M1570.0 329.0h0M1570.1 317.0h0M1569.4 304.3h0M1570.5 339.6h0M1570.1 309.2h0M1569.7 306.8h0M1570.1 292.3h0M1569.8 296.2h0M1570.3 317.4h0M1570.2 294.7h0M1570.2 325.4h0M1570.0 309.9h0M1570.4 346.8h0M1570.2 330.5h0M1570.5 316.8h0M1570.3 342.0h0M1570.3 336.4h0M1570.3 297.8h0M1570.4 323.4h0M1571.0 341.0h0M1570.3 325.8h0M1570.2 335.3h0M1569.6 330.2h0M1570.0 319.8h0M1570.7 303.3h0M1569.8 322.3h0M1570.8 341.3h0M1569.9 293.8h0M1570.3 323.9h0M1570.7 300.3h0M1570.9 316.2h0M1570.7 299.3h0M1570.4 329.4h0M1570.3 342.4h0M1570.3 302.4h0M1569.8 327.6h0M1570.8 320.2h0M1571.2 311.5h0M1569.2 294.8h0M1570.6 331.6h0M1570.5 302.9h0M1570.6 328.6h0M1570.1 319.6h0M1570.0 337.4h0M1570.7 309.4h0M1570.4 334.1h0M1570.8 311.4h0M1569.7 341.9h0M1570.3 342.8h0M1569.8 292.4h0M1569.9 327.9h0M1570.9 345.7h0M1570.7 313.8h0M1569.9 313.5h0M1570.6 303.1h0M1570.2 288.8h0M1571.0 306.7h0M1570.7 310.6h0M1570.6 341.1h0M1570.2 309.1h0M1570.9 320.1h0M1569.5 342.3h0M1570.2 334.3h0M1570.6 332.8h0M1570.7 343.4h0M1570.1 290.8h0M1570.6 329.3h0M1570.2 343.7h0M1570.7 334.1h0M1569.9 313.9h0M1570.2 296.6h0M1570.1 336.0h0M1569.5 292.0h0M1570.1 298.4h0M1570.2 296.6h0M1569.8 330.3h0M1570.0 303.0h0M1570.2 326.3h0M1570.7 301.4h0M1570.3 326.9h0M1570.1 313.6h0M1569.7 337.3h0M1570.1 343.6h0M1571.1 346.3h0M1570.0 328.6h0M1570.2 289.9h0M1570.3 340.8h0M1570.0 290.4h0M1570.7 307.0h0M1570.1 323.2h0M1571.1 314.4h0M1570.3 318.1h0M1570.7 299.6h0M1570.7 293.1h0M1570.2 309.8h0M1570.3 320.5h0M1570.5 328.9h0M1570.0 306.2h0M1570.1 313.9h0M1570.6 292.6h0M1569.4 313.1h0M1570.1 324.6h0M1569.8 291.0h0M1570.1 289.3h0M1570.1 289.9h0M1571.1 371.4h0M1570.3 354.2h0M1570.3 375.4h0M1570.8 377.9h0M1570.4 374.3h0M1569.6 370.3h0M1570.8 357.0h0M1570.6 357.3h0M1571.0 362.1h0M1570.3 363.7h0M1569.8 356.1h0M1570.7 373.5h0M1570.4 379.2h0M1570.6 354.3h0M1570.5 382.9h0M1569.9 378.1h0M1570.6 372.6h0M1571.0 350.4h0M1570.3 371.6h0M1569.5 382.3h0M1570.1 374.3h0M1570.1 359.9h0" fill="none" stroke="#b0f010" stroke-width="3.8" stroke-linecap="round"/>
<path d="M1573.7 296.8h0M1573.6 303.4h0M1573.6 317.8h0M1573.5 314.4h0M1573.7 319.4h0M1573.8 311.0h0M1573.4 320.4h0M1573.4 311.8h0M1573.7 311.5h0M1573.8 313.3h0M1573.7 319.0h0M1573.5 319.9h0M1573.3 311.1h0M1573.0 308.8h0M1573.5 310.6h0M1573.7 314.3h0M1573.6 330.7h0M1573.7 335.1h0M1573.6 345.4h0M1573.7 351.3h0M1573.7 360.1h0M1573.9 369.5h0M1573.8 366.4h0M1573.5 370.6h0M1573.9 361.9h0M1573.9 360.7h0M1573.4 359.7h0M1573.3 365.6h0M1573.4 360.9h0M1573.3 363.8h0M1573.8 358.3h0M1573.5 370.4h0M1573.5 362.5h0M1573.2 365.6h0M1573.5 359.2h0M1573.0 364.1h0M1573.5 377.8h0M1573.7 392.5h0" fill="none" stroke="#f4f010" stroke-width="3.8" stroke-linecap="round"/>
<path d="M1572.2 399.2h0M1572.2 408.5h0M1572.2 427.1h0M1572.2 441.0h0M1572.2 442.8h0M1572.2 448.5h0M1572.2 457.5h0" fill="none" stroke="#b8f010" stroke-width="3.8" stroke-linecap="round"/>
<path d="M1573.7 508.8h0M1573.7 517.4h0M1573.7 520.2h0M1573.7 534.0h0M1573.7 542.8h0M1573.7 666.8h0" fill="none" stroke="#f8f000" stroke-width="3.8" stroke-linecap="round"/>
<path d="M1655.8 296.6h0M1655.7 308.3h0M1656.0 311.9h0M1655.7 308.1h0M1655.8 310.7h0M1656.0 312.3h0M1655.5 310.4h0M1656.3 309.7h0M1655.6 312.4h0M1655.6 313.9h0M1655.8 323.2h0M1655.8 320.2h0M1655.8 320.2h0M1655.7 321.1h0M1655.9 337.5h0M1656.1 337.6h0M1655.9 337.1h0M1655.8 334.2h0M1655.7 338.7h0M1655.9 348.4h0M1655.8 351.9h0" fill="none" stroke="#ffa010" stroke-width="3.8" stroke-linecap="round"/>
<path d="M1655.5 326.3h0M1655.4 329.3h0M1655.4 332.8h0M1655.4 346.3h0M1655.5 350.4h0M1655.5 353.4h0M1655.4 359.9h0" fill="none" stroke="#ffd010" stroke-width="3.8" stroke-linecap="round"/>
<path d="M1659.4 293.1h0M1659.4 298.7h0M1659.4 301.7h0M1659.6 313.4h0M1660.0 309.9h0M1659.4 310.2h0M1659.5 313.1h0M1659.3 309.9h0M1659.5 309.5h0M1659.5 311.9h0M1659.8 315.1h0M1659.0 310.8h0M1659.3 311.4h0M1659.6 317.0h0M1659.2 313.2h0M1659.3 326.3h0M1659.4 331.3h0M1659.4 334.3h0M1659.4 348.4h0M1659.3 351.4h0M1659.4 354.4h0" fill="none" stroke="#ff7a10" stroke-width="3.8" stroke-linecap="round"/>
<path d="M1696.7 327.2h0M1696.3 342.0h0M1696.2 335.7h0M1696.2 339.4h0M1696.0 338.7h0M1696.0 345.7h0M1695.8 335.2h0M1696.5 326.5h0M1696.3 334.7h0M1696.4 341.3h0M1696.7 339.1h0M1696.3 345.3h0M1696.7 338.3h0M1696.2 342.3h0M1696.3 338.0h0M1695.8 344.8h0M1696.4 326.9h0M1695.9 323.2h0M1696.3 350.9h0M1696.4 358.9h0M1696.2 362.9h0" fill="none" stroke="#ff4010" stroke-width="3.8" stroke-linecap="round"/>
<path d="M1703.4 282.1h0M1703.5 285.1h0M1703.6 287.1h0M1703.9 349.4h0M1702.5 296.5h0M1701.9 307.3h0M1704.3 308.3h0M1702.5 317.0h0M1702.4 295.6h0M1703.6 326.7h0M1703.1 349.2h0M1703.5 302.7h0M1705.7 349.2h0M1704.5 306.3h0M1704.7 304.2h0M1702.0 345.1h0M1704.7 316.6h0M1704.3 307.7h0M1704.2 334.3h0M1702.9 318.0h0M1704.6 354.6h0M1702.0 330.4h0M1703.8 361.3h0M1702.4 332.4h0M1704.1 341.7h0M1704.2 308.8h0M1703.5 342.6h0M1701.8 331.7h0M1702.1 323.2h0M1703.5 329.4h0M1702.6 314.5h0M1703.5 328.9h0M1703.6 293.0h0M1704.5 304.9h0M1703.3 292.2h0M1703.6 324.5h0M1702.2 355.6h0M1702.5 318.4h0M1702.9 308.8h0M1703.0 294.2h0M1704.5 340.7h0M1702.3 355.0h0M1703.2 347.4h0M1700.9 300.6h0M1702.6 328.7h0M1704.0 345.0h0M1702.8 339.0h0M1702.4 357.5h0M1703.8 312.5h0M1703.5 302.6h0M1703.9 304.5h0M1701.6 294.6h0M1702.7 333.3h0M1703.5 357.7h0M1702.1 335.3h0M1703.6 298.0h0M1703.8 313.3h0M1703.2 332.2h0M1703.1 311.1h0M1703.3 337.7h0M1703.1 342.6h0M1703.6 296.6h0M1703.5 361.1h0M1703.9 331.3h0M1701.8 332.6h0M1703.6 355.9h0M1703.5 327.0h0M1704.1 308.5h0M1702.8 293.2h0M1702.5 325.2h0M1704.4 341.5h0M1704.4 342.0h0M1703.7 303.1h0M1704.3 340.4h0M1705.0 359.9h0M1703.3 348.6h0M1702.9 322.5h0M1702.1 330.4h0M1702.4 328.8h0M1703.3 299.3h0M1704.0 358.7h0M1703.7 334.0h0M1704.6 345.1h0M1702.6 326.1h0M1703.1 297.1h0M1703.1 291.2h0M1703.1 301.8h0M1703.4 297.4h0M1704.0 306.5h0M1703.0 348.0h0M1702.6 308.9h0M1702.8 354.0h0M1703.4 319.6h0M1703.6 339.8h0M1703.1 321.0h0M1702.9 330.0h0M1703.1 321.7h0M1701.8 343.8h0M1702.8 300.4h0M1703.3 299.0h0M1703.2 306.1h0M1703.1 360.7h0M1703.9 296.4h0M1702.4 316.8h0M1703.5 326.4h0M1704.0 352.8h0M1704.3 299.6h0M1704.3 300.7h0M1701.6 309.7h0M1703.1 334.6h0M1704.4 316.4h0M1702.6 311.7h0M1703.3 337.1h0M1701.9 337.2h0M1702.6 359.2h0M1702.5 297.7h0M1704.4 355.5h0M1703.7 321.1h0M1704.1 327.4h0M1702.7 342.8h0M1704.3 320.5h0M1702.8 357.6h0M1702.2 329.7h0M1704.1 332.4h0M1704.6 334.6h0M1703.8 353.9h0M1704.2 330.8h0M1702.2 343.2h0M1703.3 339.0h0M1703.5 318.1h0M1702.8 304.1h0M1703.6 330.1h0M1701.3 329.7h0M1704.6 312.0h0M1703.2 347.1h0M1703.5 290.3h0M1703.3 300.2h0M1702.9 308.2h0M1703.2 319.0h0M1703.8 294.6h0M1703.7 311.3h0M1703.5 295.2h0M1702.5 350.1h0M1702.4 292.7h0M1703.0 359.8h0M1702.9 301.7h0M1703.5 353.2h0M1705.6 349.2h0M1703.6 291.7h0M1703.3 327.4h0M1703.8 312.8h0M1703.1 324.8h0M1701.2 310.4h0M1702.5 315.2h0M1703.0 312.7h0M1702.4 329.4h0M1703.6 360.2h0M1704.1 296.9h0M1703.7 310.6h0M1704.6 326.2h0M1703.1 302.2h0M1702.8 306.1h0M1703.0 361.0h0M1702.0 314.6h0M1702.7 359.0h0M1703.3 339.9h0M1702.9 347.8h0M1702.8 349.8h0M1703.6 352.0h0M1703.7 328.4h0M1703.4 345.5h0M1701.0 301.5h0M1704.0 335.0h0M1704.6 352.1h0M1703.2 333.7h0M1702.5 333.8h0M1705.9 326.7h0M1702.6 322.4h0M1702.7 321.9h0M1702.3 303.5h0M1703.9 319.4h0M1704.3 326.9h0M1703.3 309.1h0M1702.7 346.2h0M1703.0 354.4h0M1704.1 291.2h0M1702.9 360.1h0M1703.7 356.8h0M1704.2 330.8h0M1702.7 333.3h0M1703.1 351.9h0M1701.6 333.2h0M1704.7 319.9h0M1703.9 326.8h0M1703.4 337.8h0M1701.2 334.6h0M1703.5 341.3h0M1703.3 297.2h0M1702.6 316.1h0M1703.0 349.6h0M1702.4 334.9h0M1705.1 354.5h0M1702.4 329.5h0M1702.3 355.4h0M1703.8 305.7h0M1703.3 353.7h0M1703.9 310.5h0M1703.2 323.6h0M1703.4 303.2h0M1704.0 347.6h0M1704.1 351.3h0M1704.3 305.8h0M1703.1 298.5h0M1703.4 321.0h0M1702.8 355.6h0M1702.9 331.0h0M1704.4 332.1h0M1703.3 338.2h0M1702.5 334.0h0M1702.3 308.5h0M1703.1 333.2h0M1701.7 314.9h0M1702.8 293.0h0M1703.9 329.1h0M1704.1 360.0h0M1702.4 331.4h0M1704.6 291.9h0M1703.6 315.2h0M1705.2 317.9h0M1703.2 303.7h0M1703.8 306.0h0M1703.5 350.6h0M1702.2 356.6h0M1704.9 360.8h0M1702.6 338.4h0M1704.8 301.0h0M1703.6 297.7h0M1702.0 320.0h0M1703.0 306.5h0M1704.4 303.5h0M1704.7 311.2h0M1703.4 312.0h0M1702.3 319.5h0M1702.1 359.3h0M1703.7 346.3h0M1703.9 319.5h0M1704.3 295.7h0M1704.7 352.4h0M1702.5 317.6h0M1704.7 328.5h0M1702.8 316.1h0M1705.1 298.1h0M1704.9 312.7h0M1702.6 320.9h0M1702.8 346.6h0M1703.6 343.9h0M1703.5 316.3h0M1702.7 338.5h0M1704.6 314.3h0M1704.2 290.2h0M1702.1 316.0h0M1705.1 312.9h0M1704.0 297.0h0M1702.8 364.9h0M1703.4 367.9h0M1703.6 374.5h0M1703.2 385.5h0" fill="none" stroke="#ff0000" stroke-width="3.8" stroke-linecap="round"/>
</g>
<g id="hist">
<path d="M178.8 1389.46v6.4M192.9 1389.46v6.4M206.9 1389.46v6.4M221.0 1389.46v6.4M235.1 1389.46v6.4M249.2 1389.46v6.4M263.2 1389.46v6.4M277.3 1389.46v12.8M277.3 881.0v9.8M291.4 1389.46v6.4M305.4 1389.46v6.4M319.5 1389.46v6.4M333.6 1389.46v6.4M347.7 1389.46v6.4M361.7 1389.46v6.4M375.8 1389.46v6.4M389.9 1389.46v6.4M403.9 1389.46v6.4M418.0 1389.46v12.8M418.0 881.0v9.8M432.1 1389.46v6.4M446.2 1389.46v6.4M460.2 1389.46v6.4M474.3 1389.46v6.4M488.4 1389.46v6.4M502.4 1389.46v6.4M516.5 1389.46v6.4M530.6 1389.46v6.4M544.6 1389.46v6.4M558.7 1389.46v12.8M558.7 881.0v9.8M572.8 1389.46v6.4M586.9 1389.46v6.4M600.9 1389.46v6.4M615.0 1389.46v6.4M629.1 1389.46v6.4M643.1 1389.46v6.4M657.2 1389.46v6.4M671.3 1389.46v6.4M685.4 1389.46v6.4M699.4 1389.46v12.8M699.4 881.0v9.8M713.5 1389.46v6.4M727.6 1389.46v6.4M741.6 1389.46v6.4M755.7 1389.46v6.4M769.8 1389.46v6.4M783.9 1389.46v6.4M797.9 1389.46v6.4M812.0 1389.46v6.4M826.1 1389.46v6.4M840.1 1389.46v12.8M840.1 881.0v9.8M854.2 1389.46v6.4M868.3 1389.46v6.4M882.4 1389.46v6.4M896.4 1389.46v6.4M910.5 1389.46v6.4M167.4 1251.1h15M923.37 1251.1h-15M167.4 1112.8h15M923.37 1112.8h-15M167.4 974.4h15M923.37 974.4h-15" fill="none" stroke="#000" stroke-width="2"/>
<rect x="167.4" y="881.0" width="755.97" height="508.46000000000004" fill="none" stroke="#000" stroke-width="2"/>
<path d="M178.00 1389.46V1386.1H188.92V1389.46M188.92 1389.46V1384.6H199.84V1389.46M199.84 1389.46V1385.7H210.76V1389.46M210.76 1389.46V1362.2H221.68V1389.46M221.68 1389.46V1337.7H232.59V1389.46M232.59 1389.46V1301.7H243.51V1389.46M243.51 1389.46V1185.4H254.43V1389.46M254.43 1389.46V1132.8H265.35V1389.46M265.35 1389.46V905.7H276.27V1389.46M276.27 1389.46V908.1H287.19V1389.46M287.19 1389.46V906.9H298.11V1389.46M298.11 1389.46V958.2H309.03V1389.46M309.03 1389.46V1030.0H319.95V1389.46M319.95 1389.46V1116.9H330.87V1389.46M330.87 1389.46V1209.1H341.78V1389.46M341.78 1389.46V1247.4H352.70V1389.46M352.70 1389.46V1302.7H363.62V1389.46M363.62 1389.46V1316.7H374.54V1389.46M374.54 1389.46V1343.3H385.46V1389.46M385.46 1389.46V1362.2H396.38V1389.46M396.38 1389.46V1378.8H407.30V1389.46M407.30 1389.46V1377.6H418.22V1389.46M418.22 1389.46V1383.1H429.14V1389.46M429.14 1389.46V1385.7H440.06V1389.46M440.06 1389.46V1388.1H450.98V1389.46M450.98 1389.46V1388.6H461.89V1389.46M461.89 1389.46V1388.9H472.81V1389.46M472.81 1389.46V1388.1H483.73V1389.46M483.73 1389.46V1388.8H494.65V1389.46M494.65 1389.46V1385.3H505.57V1389.46M505.57 1389.46V1388.1H516.49V1389.46M516.49 1389.46V1388.9H527.41V1389.46M527.41 1389.46V1388.1H538.33V1389.46M538.33 1389.46V1388.9H549.25V1389.46M549.25 1389.46V1389.5H560.17V1389.46M560.16 1389.46V1389.5H571.08V1389.46M571.08 1389.46V1388.9H582.00V1389.46M582.00 1389.46V1389.5H592.92V1389.46M592.92 1389.46V1389.5H603.84V1389.46M603.84 1389.46V1388.8H614.76V1389.46M614.76 1389.46V1388.1H625.68V1389.46M625.68 1389.46V1388.8H636.60V1389.46M636.60 1389.46V1382.5H647.52V1389.46M647.52 1389.46V1389.5H658.44V1389.46M658.44 1389.46V1388.1H669.36V1389.46M669.36 1389.46V1388.9H680.27V1389.46M680.27 1389.46V1388.1H691.19V1389.46M691.19 1389.46V1389.5H702.11V1389.46M702.11 1389.46V1388.9H713.03V1389.46M713.03 1389.46V1389.5H723.95V1389.46M723.95 1389.46V1389.5H734.87V1389.46M734.87 1389.46V1389.5H745.79V1389.46M745.79 1389.46V1389.0H756.71V1389.46M756.71 1389.46V1389.5H767.63V1389.46M767.63 1389.46V1389.5H778.54V1389.46M778.55 1389.46V1389.5H789.46V1389.46M789.46 1389.46V1389.5H800.38V1389.46M800.38 1389.46V1389.5H811.30V1389.46M811.30 1389.46V1389.0H822.22V1389.46M822.22 1389.46V1389.5H833.14V1389.46M833.14 1389.46V1389.5H844.06V1389.46M844.06 1389.46V1389.5H854.98V1389.46M854.98 1389.46V1389.5H865.90V1389.46M865.90 1389.46V1389.5H876.82V1389.46M876.82 1389.46V1389.5H887.74V1389.46M887.74 1389.46V1389.5H898.65V1389.46M898.65 1389.46V1388.1H909.57V1389.46M178.00 1389.46H909.57" fill="none" stroke="#ff0000" stroke-width="2" stroke-linejoin="miter"/>
<text transform="translate(136.38 1390.71) scale(1.0553 1)" font-size="34.33" fill="#000" stroke="#fff" stroke-width="0.42" stroke-linejoin="round" vector-effect="non-scaling-stroke">0</text>
<text transform="translate(97.93 1264.52) scale(0.9414 1)" font-size="34.33" letter-spacing="2.403" fill="#000" stroke="#fff" stroke-width="0.42" stroke-linejoin="round" vector-effect="non-scaling-stroke">100</text>
<text transform="translate(95.81 1126.17) scale(0.9764 1)" font-size="34.33" letter-spacing="2.403" fill="#000" stroke="#fff" stroke-width="0.42" stroke-linejoin="round" vector-effect="non-scaling-stroke">200</text>
<text transform="translate(96.22 987.82) scale(0.9695 1)" font-size="34.33" letter-spacing="2.403" fill="#000" stroke="#fff" stroke-width="0.42" stroke-linejoin="round" vector-effect="non-scaling-stroke">300</text>
<text transform="translate(251.64 1448.91) scale(0.9621 1)" font-size="34.33" letter-spacing="2.403" fill="#000" stroke="#fff" stroke-width="0.42" stroke-linejoin="round" vector-effect="non-scaling-stroke">9.4</text>
<text transform="translate(392.34 1448.91) scale(0.9705 1)" font-size="34.33" letter-spacing="2.403" fill="#000" stroke="#fff" stroke-width="0.42" stroke-linejoin="round" vector-effect="non-scaling-stroke">9.5</text>
<text transform="translate(533.05 1448.91) scale(0.9719 1)" font-size="34.33" letter-spacing="2.403" fill="#000" stroke="#fff" stroke-width="0.42" stroke-linejoin="round" vector-effect="non-scaling-stroke">9.6</text>
<text transform="translate(673.75 1448.91) scale(0.9762 1)" font-size="34.33" letter-spacing="2.403" fill="#000" stroke="#fff" stroke-width="0.42" stroke-linejoin="round" vector-effect="non-scaling-stroke">9.7</text>
<text transform="translate(814.47 1448.91) scale(0.9715 1)" font-size="34.33" letter-spacing="2.403" fill="#000" stroke="#fff" stroke-width="0.42" stroke-linejoin="round" vector-effect="non-scaling-stroke">9.8</text>
<text transform="translate(477.96 1488.41) scale(0.8461 1)" font-size="34.33" fill="#000" stroke="#fff" stroke-width="0.42" stroke-linejoin="round" vector-effect="non-scaling-stroke">V</text>
<text transform="translate(513.42 1488.41) scale(0.9729 1)" font-size="34.33" letter-spacing="2.403" fill="#000" stroke="#fff" stroke-width="0.42" stroke-linejoin="round" vector-effect="non-scaling-stroke">(mag)</text>
<g transform="translate(68.4 1144.7) rotate(-90)">
<text transform="translate(-2.69 0.21) scale(0.8822 1)" font-size="34.33" fill="#000" stroke="#fff" stroke-width="0.42" stroke-linejoin="round" vector-effect="non-scaling-stroke">N</text>
</g>
</g>
</svg></body></html>
